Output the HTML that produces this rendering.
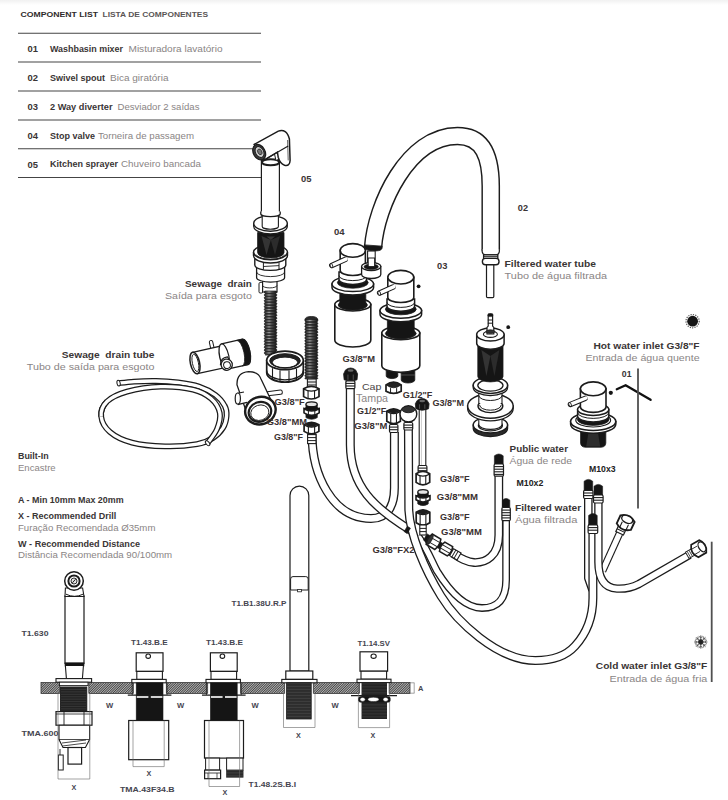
<!DOCTYPE html>
<html><head><meta charset="utf-8"><title>Component list</title>
<style>
html,body{margin:0;padding:0;background:#fff;}
body{width:728px;height:800px;overflow:hidden;font-family:"Liberation Sans",sans-serif;}
svg{display:block;font-family:"Liberation Sans",sans-serif;}
</style></head><body>
<svg width="728" height="800" viewBox="0 0 728 800">
<defs>
<pattern id="hatch" width="1.7" height="1.7" patternUnits="userSpaceOnUse" patternTransform="rotate(45)">
<rect width="1.7" height="1.7" fill="#b4b4b4"/><rect width="0.85" height="1.7" fill="#444"/>
</pattern>
<linearGradient id="rib" x1="0" x2="1" y1="0" y2="0">
<stop offset="0" stop-color="#1a1a1a"/><stop offset="0.22" stop-color="#6a6a6a"/><stop offset="0.38" stop-color="#a8a8a8"/>
<stop offset="0.6" stop-color="#555"/><stop offset="0.85" stop-color="#2a2a2a"/><stop offset="1" stop-color="#111"/>
</linearGradient>
<linearGradient id="topg" x1="0" x2="0" y1="0" y2="1"><stop offset="0" stop-color="#f1f1f1"/><stop offset="1" stop-color="#ffffff"/></linearGradient>
</defs>
<rect width="728" height="800" fill="#fff"/>
<rect width="728" height="5" fill="url(#topg)"/>
<text x="20.5" y="16.7" font-size="7.4" font-weight="bold" fill="#2e2a2a" textLength="77.5" lengthAdjust="spacingAndGlyphs">COMPONENT LIST</text>
<text x="102.5" y="16.6" font-size="7.2" font-weight="bold" fill="#5a5555" textLength="105.5" lengthAdjust="spacingAndGlyphs">LISTA DE COMPONENTES</text>
<line x1="18" y1="33.2" x2="261" y2="33.2" stroke="#444" stroke-width="1.1" />
<line x1="18" y1="62" x2="261" y2="62" stroke="#444" stroke-width="1.1" />
<line x1="18" y1="91" x2="261" y2="91" stroke="#444" stroke-width="1.1" />
<line x1="18" y1="120" x2="261" y2="120" stroke="#444" stroke-width="1.1" />
<line x1="18" y1="148.7" x2="261" y2="148.7" stroke="#444" stroke-width="1.1" />
<line x1="18" y1="177.5" x2="261" y2="177.5" stroke="#444" stroke-width="1.1" />
<text x="27.5" y="52.2" font-size="8.8" font-weight="bold" fill="#3a3535" textLength="10.5" lengthAdjust="spacingAndGlyphs">01</text>
<text x="50.0" y="52.0" font-size="8.2" font-weight="bold" fill="#3a3535" textLength="73.0" lengthAdjust="spacingAndGlyphs">Washbasin mixer</text>
<text x="128.5" y="52.0" font-size="8.2" font-weight="normal" fill="#8a8585" textLength="94.0" lengthAdjust="spacingAndGlyphs">Misturadora lavatório</text>
<text x="27.5" y="81.2" font-size="8.8" font-weight="bold" fill="#3a3535" textLength="10.5" lengthAdjust="spacingAndGlyphs">02</text>
<text x="50.0" y="81.0" font-size="8.2" font-weight="bold" fill="#3a3535" textLength="55.0" lengthAdjust="spacingAndGlyphs">Swivel spout</text>
<text x="110.0" y="81.0" font-size="8.2" font-weight="normal" fill="#8a8585" textLength="58.5" lengthAdjust="spacingAndGlyphs">Bica giratória</text>
<text x="27.5" y="110.0" font-size="8.8" font-weight="bold" fill="#3a3535" textLength="10.5" lengthAdjust="spacingAndGlyphs">03</text>
<text x="50.0" y="109.8" font-size="8.2" font-weight="bold" fill="#3a3535" textLength="62.5" lengthAdjust="spacingAndGlyphs">2 Way diverter</text>
<text x="117.5" y="109.8" font-size="8.2" font-weight="normal" fill="#8a8585" textLength="82.0" lengthAdjust="spacingAndGlyphs">Desviador 2 saídas</text>
<text x="27.5" y="138.8" font-size="8.8" font-weight="bold" fill="#3a3535" textLength="10.5" lengthAdjust="spacingAndGlyphs">04</text>
<text x="50.0" y="138.6" font-size="8.2" font-weight="bold" fill="#3a3535" textLength="45.0" lengthAdjust="spacingAndGlyphs">Stop valve</text>
<text x="98.0" y="138.6" font-size="8.2" font-weight="normal" fill="#8a8585" textLength="96.0" lengthAdjust="spacingAndGlyphs">Torneira de passagem</text>
<text x="27.5" y="167.6" font-size="8.8" font-weight="bold" fill="#3a3535" textLength="10.5" lengthAdjust="spacingAndGlyphs">05</text>
<text x="50.0" y="167.4" font-size="8.2" font-weight="bold" fill="#3a3535" textLength="68.0" lengthAdjust="spacingAndGlyphs">Kitchen sprayer</text>
<text x="121.0" y="167.4" font-size="8.2" font-weight="normal" fill="#8a8585" textLength="80.0" lengthAdjust="spacingAndGlyphs">Chuveiro bancada</text>
<path d="M118.6,383.2 C121.2,382.9 127.8,382.0 134.0,381.6  C140.2,381.2 148.7,380.9 156.0,381.0  C163.3,381.1 170.8,381.6 178.0,382.5  C185.2,383.4 192.8,384.5 199.0,386.6  C205.2,388.7 211.2,391.8 215.5,395.0  C219.8,398.2 223.0,402.5 224.8,406.0  C226.7,409.5 226.9,412.3 226.6,416.0  C226.3,419.7 225.3,424.3 223.0,428.0  C220.7,431.7 217.3,435.3 213.0,438.0  C208.7,440.7 205.0,442.8 197.0,444.2  C189.0,445.6 175.8,446.7 165.0,446.4  C154.2,446.1 141.2,445.0 132.0,442.6  C122.8,440.2 115.1,436.4 110.0,432.0  C104.9,427.6 101.7,421.6 101.2,416.5  C100.7,411.4 102.7,405.6 107.0,401.5 " fill="none" stroke="#1c1c1c" stroke-width="5.8" stroke-linecap="butt" stroke-linejoin="round"/>
<path d="M118.6,383.2 C121.2,382.9 127.8,382.0 134.0,381.6  C140.2,381.2 148.7,380.9 156.0,381.0  C163.3,381.1 170.8,381.6 178.0,382.5  C185.2,383.4 192.8,384.5 199.0,386.6  C205.2,388.7 211.2,391.8 215.5,395.0  C219.8,398.2 223.0,402.5 224.8,406.0  C226.7,409.5 226.9,412.3 226.6,416.0  C226.3,419.7 225.3,424.3 223.0,428.0  C220.7,431.7 217.3,435.3 213.0,438.0  C208.7,440.7 205.0,442.8 197.0,444.2  C189.0,445.6 175.8,446.7 165.0,446.4  C154.2,446.1 141.2,445.0 132.0,442.6  C122.8,440.2 115.1,436.4 110.0,432.0  C104.9,427.6 101.7,421.6 101.2,416.5  C100.7,411.4 102.7,405.6 107.0,401.5 " fill="none" stroke="#fff" stroke-width="3.3" stroke-linecap="butt" stroke-linejoin="round"/>
<path d="M101.2,416.5 C100.7,411.4 102.7,405.6 107.0,401.5  C111.3,397.4 118.1,394.1 127.0,391.6  C135.9,389.1 149.6,386.9 160.6,386.6  C171.6,386.3 184.6,387.6 193.0,389.6  C201.4,391.6 206.5,394.7 211.0,398.6  C215.5,402.5 218.8,407.9 219.8,413.0  C220.8,418.1 219.0,424.0 217.0,429.0  C215.0,434.0 209.2,440.8 207.6,443.2" fill="none" stroke="#1c1c1c" stroke-width="5.8" stroke-linecap="butt" stroke-linejoin="round"/>
<path d="M101.2,416.5 C100.7,411.4 102.7,405.6 107.0,401.5  C111.3,397.4 118.1,394.1 127.0,391.6  C135.9,389.1 149.6,386.9 160.6,386.6  C171.6,386.3 184.6,387.6 193.0,389.6  C201.4,391.6 206.5,394.7 211.0,398.6  C215.5,402.5 218.8,407.9 219.8,413.0  C220.8,418.1 219.0,424.0 217.0,429.0  C215.0,434.0 209.2,440.8 207.6,443.2" fill="none" stroke="#fff" stroke-width="3.3" stroke-linecap="butt" stroke-linejoin="round"/>
<g transform="rotate(-12 118.6 383.2)">
<ellipse cx="118.60" cy="383.20" rx="1.60" ry="2.90" fill="#fff" stroke="#1c1c1c" stroke-width="1.0" />
</g>
<g transform="rotate(-40 207.6 443.2)">
<ellipse cx="207.60" cy="443.20" rx="1.60" ry="2.90" fill="#fff" stroke="#1c1c1c" stroke-width="1.0" />
</g>
<g transform="rotate(-12.5 195 363)">
<rect x="213.50" y="344.50" width="3.40" height="8.50" fill="#fff" stroke="#1c1c1c" stroke-width="1.0" rx="1.4" />
<path d="M195,352 L226,352 L226,374 L195,374" fill="#fff" stroke="#1c1c1c" stroke-width="1.3" />
<path d="M225,350 L246.5,350 A4.6,13 0 0 1 246.5,376 L225,376 A4.6,13 0 0 1 225,350 Z" fill="#fff" stroke="#1c1c1c" stroke-width="1.3" />
<path d="M240.5,350 L246.5,350 A4.6,13 0 0 1 246.5,376 L240.5,376 A4.6,13 0 0 0 240.5,350 Z" fill="#151515" stroke="#1c1c1c" stroke-width="0.8" />
<path d="M225,350 A4.6,13 0 0 1 225,376" fill="none" stroke="#1c1c1c" stroke-width="1.2" />
<ellipse cx="195.00" cy="363.00" rx="4.60" ry="11.00" fill="#fff" stroke="#1c1c1c" stroke-width="1.5" />
<ellipse cx="195.40" cy="363.00" rx="3.00" ry="8.80" fill="#fff" stroke="#1c1c1c" stroke-width="0.9" />
<path d="M219.5,370 Q221,363.5 228,364 L231,371 Z" fill="#fff" stroke="#1c1c1c" stroke-width="1.1" />
<ellipse cx="225.60" cy="371.50" rx="5.60" ry="5.60" fill="#fff" stroke="#1c1c1c" stroke-width="1.3" />
<ellipse cx="225.80" cy="372.00" rx="3.40" ry="3.40" fill="#fff" stroke="#1c1c1c" stroke-width="1.0" />
</g>
<g transform="rotate(-7 268 394)">
<rect x="266.00" y="391.60" width="16.40" height="4.20" fill="#fff" stroke="#1c1c1c" stroke-width="1.0" rx="1.6" />
</g>
<path d="M237,385 Q236.5,372.5 248.5,371.6 Q258.5,371.6 261,379 L270.5,399 L247.5,415 Z" fill="#fff" stroke="#1c1c1c" stroke-width="1.3" />
<path d="M244,392 L238,393.2 L238.5,404.4 L247,402.4" fill="#fff" stroke="#1c1c1c" stroke-width="1.2" />
<ellipse cx="237.80" cy="398.60" rx="2.60" ry="5.60" fill="#fff" stroke="#1c1c1c" stroke-width="1.2" />
<g transform="rotate(-18 260.4 410.6)">
<ellipse cx="260.40" cy="410.60" rx="15.40" ry="13.60" fill="#fff" stroke="#1c1c1c" stroke-width="2.4" />
<ellipse cx="259.60" cy="411.60" rx="11.40" ry="9.80" fill="#fff" stroke="#1c1c1c" stroke-width="2.2" />
<ellipse cx="259.20" cy="412.40" rx="9.20" ry="7.60" fill="#fff" stroke="#1c1c1c" stroke-width="0.9" />
</g>
<rect x="261.40" y="160.00" width="18.00" height="54.50" fill="#fff" stroke="#1c1c1c" stroke-width="1.2" rx="0" />
<ellipse cx="270.60" cy="162.20" rx="8.60" ry="3.00" fill="#fff" stroke="#1c1c1c" stroke-width="1.9" />
<path d="M274,152 L276,160.5 L279.6,159 L279.2,150 Z" fill="#fff" stroke="#1c1c1c" stroke-width="1.0" />
<path d="M254.2,144.4 L278.3,131.1 Q286.5,128.4 289.4,139 L290.1,160.5 Q289.8,166.4 284.6,165.2 Q280,163.6 278.2,157.2 L277.4,152.2 L264.6,159.8 Z" fill="#fff" stroke="#1c1c1c" stroke-width="1.5" />
<path d="M264.6,159.8 L288.2,146" fill="none" stroke="#1c1c1c" stroke-width="1.2" />
<path d="M287.6,140 L288.2,160.4" fill="none" stroke="#1c1c1c" stroke-width="0.7" />
<g transform="rotate(-28 259.2 152.2)">
<ellipse cx="259.20" cy="152.20" rx="5.90" ry="8.20" fill="#3a3a3a" stroke="#1c1c1c" stroke-width="1.2" />
<ellipse cx="259.60" cy="152.20" rx="4.00" ry="5.80" fill="#ccc" stroke="#1c1c1c" stroke-width="0.9" />
<ellipse cx="259.90" cy="152.20" rx="2.00" ry="3.00" fill="#777" stroke="#1c1c1c" stroke-width="0.7" />
</g>
<rect x="259.00" y="282.50" width="3.80" height="10.50" fill="#fff" stroke="#1c1c1c" stroke-width="1.0" rx="1.2" />
<path d="M262.6,279 L262.6,292 L277.0,292 L277.0,279" fill="#fff" stroke="#1c1c1c" stroke-width="1.2" />
<path d="M262.6,285.5 A7.2,2.4 0 0 0 277.0,285.5" fill="none" stroke="#1c1c1c" stroke-width="0.9" />
<path d="M256.6,266 L256.6,277.5 A14,4.6 0 0 0 284.6,277.5 L284.6,266 Z" fill="#fff" stroke="#1c1c1c" stroke-width="1.3" />
<path d="M256.6,272 A14,4.6 0 0 0 284.6,272" fill="none" stroke="#1c1c1c" stroke-width="0.9" />
<path d="M254.8,257 L254.8,265 A15.5,5.4 0 0 0 285.8,265 L285.8,257 Z" fill="#fff" stroke="#1c1c1c" stroke-width="1.4" />
<line x1="263.4" y1="263" x2="263.4" y2="269.6" stroke="#1c1c1c" stroke-width="1.0" />
<line x1="279" y1="262.4" x2="279" y2="269.4" stroke="#1c1c1c" stroke-width="1.0" />
<path d="M263.4,266.5 L279,265.6" fill="none" stroke="#1c1c1c" stroke-width="0.9" />
<ellipse cx="270.50" cy="252.30" rx="17.00" ry="7.40" fill="#fff" stroke="#1c1c1c" stroke-width="1.4" />
<path d="M257.6,232.5 L257.6,252.5 A13.2,5.6 0 0 0 284.0,252.5 L284.0,232.5 Z" fill="#151515" stroke="#1c1c1c" stroke-width="0.8" />
<path d="M261.5,236 L266.5,255 L270.8,240 Z" fill="#343434" stroke="none" stroke-width="1" />
<path d="M280,236 L275,255 L270.8,240 Z" fill="#2c2c2c" stroke="none" stroke-width="1" />
<path d="M266.5,236.5 L270.8,240 L275,236.5 Z" fill="#3a3a3a" stroke="none" stroke-width="1" />
<path d="M253.5,252.3 A17,7.4 0 0 0 287.5,252.3 L287.5,255.6 A17,7.4 0 0 1 253.5,255.6 Z" fill="#fff" stroke="#1c1c1c" stroke-width="1.4" />
<path d="M256.2,254.6 A14.6,6 0 0 0 284.8,254.6" fill="none" stroke="#1c1c1c" stroke-width="0.9" />
<path d="M253.7,223.4 L253.7,226.2 A16.8,7.8 0 0 0 287.3,226.2 L287.3,223.4 Z" fill="#fff" stroke="#1c1c1c" stroke-width="1.3" />
<ellipse cx="270.50" cy="223.40" rx="16.80" ry="7.80" fill="#fff" stroke="#1c1c1c" stroke-width="1.4" />
<path d="M262.2,213.5 L262.2,226.4 A8.1,2.8 0 0 0 278.4,226.4 L278.4,213.5 Z" fill="#fff" stroke="#1c1c1c" stroke-width="1.1" />
<path d="M260.8,211.5 L260.8,214 A9.7,2.6 0 0 0 280.2,214 L280.2,211.5" fill="#fff" stroke="#1c1c1c" stroke-width="1.3" />
<rect x="265.10" y="291.00" width="10.90" height="64.50" fill="#4a4a4a" stroke="none" stroke-width="1" rx="0" />
<rect x="264.30" y="291.00" width="12.50" height="2.15" fill="url(#rib)" stroke="#1a1a1a" stroke-width="0.7" rx="1.0" />
<rect x="264.30" y="293.90" width="12.50" height="2.15" fill="url(#rib)" stroke="#1a1a1a" stroke-width="0.7" rx="1.0" />
<rect x="264.30" y="296.80" width="12.50" height="2.15" fill="url(#rib)" stroke="#1a1a1a" stroke-width="0.7" rx="1.0" />
<rect x="264.30" y="299.70" width="12.50" height="2.15" fill="url(#rib)" stroke="#1a1a1a" stroke-width="0.7" rx="1.0" />
<rect x="264.30" y="302.60" width="12.50" height="2.15" fill="url(#rib)" stroke="#1a1a1a" stroke-width="0.7" rx="1.0" />
<rect x="264.30" y="305.50" width="12.50" height="2.15" fill="url(#rib)" stroke="#1a1a1a" stroke-width="0.7" rx="1.0" />
<rect x="264.30" y="308.40" width="12.50" height="2.15" fill="url(#rib)" stroke="#1a1a1a" stroke-width="0.7" rx="1.0" />
<rect x="264.30" y="311.30" width="12.50" height="2.15" fill="url(#rib)" stroke="#1a1a1a" stroke-width="0.7" rx="1.0" />
<rect x="264.30" y="314.20" width="12.50" height="2.15" fill="url(#rib)" stroke="#1a1a1a" stroke-width="0.7" rx="1.0" />
<rect x="264.30" y="317.10" width="12.50" height="2.15" fill="url(#rib)" stroke="#1a1a1a" stroke-width="0.7" rx="1.0" />
<rect x="264.30" y="320.00" width="12.50" height="2.15" fill="url(#rib)" stroke="#1a1a1a" stroke-width="0.7" rx="1.0" />
<rect x="264.30" y="322.90" width="12.50" height="2.15" fill="url(#rib)" stroke="#1a1a1a" stroke-width="0.7" rx="1.0" />
<rect x="264.30" y="325.80" width="12.50" height="2.15" fill="url(#rib)" stroke="#1a1a1a" stroke-width="0.7" rx="1.0" />
<rect x="264.30" y="328.70" width="12.50" height="2.15" fill="url(#rib)" stroke="#1a1a1a" stroke-width="0.7" rx="1.0" />
<rect x="264.30" y="331.60" width="12.50" height="2.15" fill="url(#rib)" stroke="#1a1a1a" stroke-width="0.7" rx="1.0" />
<rect x="264.30" y="334.50" width="12.50" height="2.15" fill="url(#rib)" stroke="#1a1a1a" stroke-width="0.7" rx="1.0" />
<rect x="264.30" y="337.40" width="12.50" height="2.15" fill="url(#rib)" stroke="#1a1a1a" stroke-width="0.7" rx="1.0" />
<rect x="264.30" y="340.30" width="12.50" height="2.15" fill="url(#rib)" stroke="#1a1a1a" stroke-width="0.7" rx="1.0" />
<rect x="264.30" y="343.20" width="12.50" height="2.15" fill="url(#rib)" stroke="#1a1a1a" stroke-width="0.7" rx="1.0" />
<rect x="264.30" y="346.10" width="12.50" height="2.15" fill="url(#rib)" stroke="#1a1a1a" stroke-width="0.7" rx="1.0" />
<rect x="264.30" y="349.00" width="12.50" height="2.15" fill="url(#rib)" stroke="#1a1a1a" stroke-width="0.7" rx="1.0" />
<rect x="264.30" y="351.90" width="12.50" height="2.15" fill="url(#rib)" stroke="#1a1a1a" stroke-width="0.7" rx="1.0" />
<path d="M266.7,360.4 L266.7,372.79999999999995 A18.3,9.3 0 0 0 303.3,372.79999999999995 L303.3,360.4 Z" fill="#fff" stroke="#1c1c1c" stroke-width="1.7" />
<ellipse cx="285.00" cy="360.40" rx="18.30" ry="9.30" fill="#fff" stroke="#1c1c1c" stroke-width="1.7" />
<ellipse cx="285.00" cy="360.80" rx="15.30" ry="7.10" fill="#222" stroke="#1c1c1c" stroke-width="1" />
<ellipse cx="285.00" cy="362.40" rx="12.70" ry="5.30" fill="#fff" stroke="#1c1c1c" stroke-width="1" />
<path d="M272.3,362.79999999999995 A12.700000000000001,5.300000000000001 0 0 0 297.7,362.79999999999995" fill="none" stroke="#1c1c1c" stroke-width="1.0" />
<line x1="272.5" y1="368.19236810288146" x2="272.5" y2="379.09236810288144" stroke="#1c1c1c" stroke-width="1.1" />
<line x1="280.0" y1="370.34613896109414" x2="280.0" y2="381.2461389610941" stroke="#1c1c1c" stroke-width="1.1" />
<line x1="289.0" y1="370.47511859311885" x2="289.0" y2="381.3751185931188" stroke="#1c1c1c" stroke-width="1.1" />
<line x1="296.5" y1="368.63426556232787" x2="296.5" y2="379.53426556232785" stroke="#1c1c1c" stroke-width="1.1" />
<path d="M266.7,370.59999999999997 A18.3,9.3 0 0 0 303.3,370.59999999999997" fill="none" stroke="#1c1c1c" stroke-width="1.4" />
<path d="M334.8,304.5 L334.8,340 A18,7 0 0 0 370.8,340 L370.8,304.5 Z" fill="#fff" stroke="#1c1c1c" stroke-width="1.6" />
<ellipse cx="352.80" cy="304.50" rx="18.00" ry="6.50" fill="#fff" stroke="#1c1c1c" stroke-width="1.6" />
<ellipse cx="352.80" cy="305.00" rx="14.60" ry="5.00" fill="#151515" stroke="#1c1c1c" stroke-width="0.8" />
<path d="M339.8,286 L339.8,305.5 A13,4.5 0 0 0 365.8,305.5 L365.8,286 Z" fill="#151515" stroke="#1c1c1c" stroke-width="0.8" />
<path d="M332.0,284 L332.0,287.4 A20.8,7.6 0 0 0 373.6,287.4 L373.6,284 Z" fill="#fff" stroke="#1c1c1c" stroke-width="1.5" />
<ellipse cx="352.80" cy="284.00" rx="20.80" ry="7.60" fill="#fff" stroke="#1c1c1c" stroke-width="1.5" />
<ellipse cx="352.80" cy="282.60" rx="15.40" ry="5.60" fill="#151515" stroke="#1c1c1c" stroke-width="0.8" />
<path d="M339.0,272 L339.0,279.4 A13.8,5 0 0 0 366.6,279.4 L366.6,272 Z" fill="#fff" stroke="#1c1c1c" stroke-width="1.5" />
<path d="M339.0,275.6 A13.8,5 0 0 0 366.6,275.6" fill="none" stroke="#1c1c1c" stroke-width="1.0" />
<path d="M340.2,250.4 L340.2,270.5 A12.6,5 0 0 0 365.40000000000003,270.5 L365.40000000000003,250 Z" fill="#fff" stroke="#1c1c1c" stroke-width="1.6" />
<ellipse cx="352.80" cy="250.40" rx="12.60" ry="6.80" fill="#fff" stroke="#1c1c1c" stroke-width="1.6" />
<path d="M331.8,265.5 L345,259.5" fill="none" stroke="#1c1c1c" stroke-width="5.4" stroke-linecap="round"/>
<path d="M331.8,265.5 L346,259.1" fill="none" stroke="#fff" stroke-width="3.4" stroke-linecap="round"/>
<g transform="rotate(-24.4 331.8 265.5)">
<ellipse cx="331.40" cy="265.50" rx="1.20" ry="2.10" fill="#fff" stroke="#1c1c1c" stroke-width="0.9" />
</g>
<path d="M373,248 C376,205 408,136 457.5,136 C484,136 490.75,158 490.75,186 L490.75,250.5" fill="none" stroke="#1c1c1c" stroke-width="18.6" stroke-linecap="butt"/>
<path d="M373,248 C376,205 408,136 457.5,136 C484,136 490.75,158 490.75,186 L490.75,250.5" fill="none" stroke="#fff" stroke-width="15.7" stroke-linecap="butt"/>
<rect x="486.50" y="264.00" width="7.30" height="33.60" fill="#fff" stroke="#1c1c1c" stroke-width="1.2" rx="1.2" />
<path d="M482.15,249.5 L482.15,251.5 Q482.4,254.6 485.4,254.8 L496.1,254.8 Q499.1,254.6 499.35,251.5 L499.35,249.5" fill="#fff" stroke="#1c1c1c" stroke-width="1.2" />
<rect x="483.60" y="254.80" width="14.20" height="3.60" fill="#fff" stroke="#1c1c1c" stroke-width="1.3" rx="0" />
<line x1="483.6" y1="256.4" x2="497.8" y2="256.4" stroke="#1c1c1c" stroke-width="0.9" />
<rect x="482.40" y="258.40" width="16.60" height="6.40" fill="#fff" stroke="#1c1c1c" stroke-width="1.4" rx="3" />
<g transform="rotate(4 373 248)">
<path d="M364,245.5 L382,245.5 L381.6,248.6 A8.8,2.8 0 0 1 364.4,248.6 Z" fill="#151515" stroke="#1c1c1c" stroke-width="0.8" />
</g>
<rect x="367.60" y="251.00" width="7.60" height="16.00" fill="#fff" stroke="#1c1c1c" stroke-width="1.1" rx="0" />
<path d="M361.6,266.5 L361.6,274.5 A9.6,4 0 0 0 380.8,274.5 L380.8,266.5 Z" fill="#fff" stroke="#1c1c1c" stroke-width="1.3" />
<ellipse cx="371.20" cy="266.50" rx="9.60" ry="4.00" fill="#fff" stroke="#1c1c1c" stroke-width="1.3" />
<ellipse cx="371.20" cy="266.80" rx="7.20" ry="2.80" fill="#151515" stroke="#1c1c1c" stroke-width="0.6" />
<rect x="368.20" y="258.00" width="6.40" height="8.60" fill="#fff" stroke="#1c1c1c" stroke-width="1.0" rx="0" />
<path d="M386.2,367 L386.2,376 A5.8,2.6 0 0 0 397.8,376 L397.8,367 Z" fill="#151515" stroke="#1c1c1c" stroke-width="0.8" />
<path d="M401.2,369 L401.2,380 A6.8,3 0 0 0 414.8,380 L414.8,369 Z" fill="#151515" stroke="#1c1c1c" stroke-width="0.8" />
<line x1="401.2" y1="375" x2="414.8" y2="375" stroke="#777" stroke-width="0.6" />
<path d="M381.8,333 L381.8,365.4 A19,7 0 0 0 419.8,365.4 L419.8,333 Z" fill="#fff" stroke="#1c1c1c" stroke-width="1.6" />
<ellipse cx="400.80" cy="333.00" rx="19.00" ry="6.80" fill="#fff" stroke="#1c1c1c" stroke-width="1.6" />
<ellipse cx="400.80" cy="333.50" rx="15.40" ry="5.20" fill="#151515" stroke="#1c1c1c" stroke-width="0.8" />
<path d="M387.40000000000003,314 L387.40000000000003,334 A13.4,4.6 0 0 0 414.2,334 L414.2,314 Z" fill="#151515" stroke="#1c1c1c" stroke-width="0.8" />
<path d="M380.0,310.6 L380.0,314.2 A20.8,7.6 0 0 0 421.6,314.2 L421.6,310.6 Z" fill="#fff" stroke="#1c1c1c" stroke-width="1.5" />
<ellipse cx="400.80" cy="310.60" rx="20.80" ry="7.60" fill="#fff" stroke="#1c1c1c" stroke-width="1.5" />
<ellipse cx="400.80" cy="309.20" rx="15.40" ry="5.60" fill="#151515" stroke="#1c1c1c" stroke-width="0.8" />
<path d="M387.0,299 L387.0,306.2 A13.8,5 0 0 0 414.6,306.2 L414.6,299 Z" fill="#fff" stroke="#1c1c1c" stroke-width="1.5" />
<path d="M387.0,302.4 A13.8,5 0 0 0 414.6,302.4" fill="none" stroke="#1c1c1c" stroke-width="1.0" />
<path d="M387.8,277.2 L387.8,297.5 A13,5 0 0 0 413.8,297.5 L413.8,277.2 Z" fill="#fff" stroke="#1c1c1c" stroke-width="1.6" />
<ellipse cx="400.80" cy="277.20" rx="13.00" ry="6.80" fill="#fff" stroke="#1c1c1c" stroke-width="1.6" />
<path d="M379.6,293 L393,287" fill="none" stroke="#1c1c1c" stroke-width="5.4" stroke-linecap="round"/>
<path d="M379.6,293 L394,286.6" fill="none" stroke="#fff" stroke-width="3.4" stroke-linecap="round"/>
<g transform="rotate(-24.1 379.6 293)">
<ellipse cx="379.20" cy="293.00" rx="1.20" ry="2.10" fill="#fff" stroke="#1c1c1c" stroke-width="0.9" />
</g>
<circle cx="418.6" cy="286.3" r="1.9" fill="#151515"/>
<path d="M386.0,384.95 L386.0,391.25 Q393.6,395.45 401.20000000000005,391.25 L401.20000000000005,384.95 Q393.6,379.34999999999997 386.0,384.95 Z" fill="#fff" stroke="#1c1c1c" stroke-width="1.7" />
<path d="M386.6,385.15999999999997 Q393.6,380.04999999999995 400.6,385.15999999999997 Q393.6,390.34 386.6,385.15999999999997 Z" fill="#222" stroke="#1c1c1c" stroke-width="0.8" />
<line x1="390.56" y1="388.09999999999997" x2="390.56" y2="393.28" stroke="#1c1c1c" stroke-width="1.0" />
<line x1="396.64000000000004" y1="388.09999999999997" x2="396.64000000000004" y2="393.28" stroke="#1c1c1c" stroke-width="1.0" />
<path d="M473.2,425 L473.2,428.6 A17.2,8 0 0 0 507.59999999999997,428.6 L507.59999999999997,425 Z" fill="#2a2a2a" stroke="#1c1c1c" stroke-width="1.2" />
<ellipse cx="490.40" cy="425.00" rx="17.20" ry="8.00" fill="#fff" stroke="#1c1c1c" stroke-width="1.5" />
<ellipse cx="490.40" cy="425.40" rx="12.00" ry="5.40" fill="#fff" stroke="#1c1c1c" stroke-width="1.3" />
<path d="M478.79999999999995,406 L478.79999999999995,424.4 A11.6,5 0 0 0 502.0,424.4 L502.0,406 Z" fill="#fff" stroke="#1c1c1c" stroke-width="1.1" />
<path d="M467.59999999999997,406 L467.59999999999997,408.6 A22.8,12.2 0 0 0 513.1999999999999,408.6 L513.1999999999999,406 Z" fill="#fff" stroke="#1c1c1c" stroke-width="1.3" />
<ellipse cx="490.40" cy="406.00" rx="22.80" ry="12.20" fill="#fff" stroke="#1c1c1c" stroke-width="1.5" />
<ellipse cx="490.40" cy="406.00" rx="12.40" ry="6.60" fill="#fff" stroke="#1c1c1c" stroke-width="1.4" />
<path d="M479.59999999999997,405 A10.8,5.2 0 0 0 501.2,405" fill="none" stroke="#1c1c1c" stroke-width="1.0" />
<path d="M478.79999999999995,386 L478.79999999999995,403 L502.0,403 L502.0,386 Z" fill="#fff" stroke="none" stroke-width="1" />
<line x1="478.79999999999995" y1="386" x2="478.79999999999995" y2="403.6" stroke="#1c1c1c" stroke-width="1.1" />
<line x1="502.0" y1="386" x2="502.0" y2="403.6" stroke="#1c1c1c" stroke-width="1.1" />
<path d="M478.79999999999995,395.5 A11.6,5 0 0 0 502.0,395.5" fill="none" stroke="#1c1c1c" stroke-width="1.0" />
<path d="M473.2,385.2 L473.2,387.4 A17.2,8.2 0 0 0 507.59999999999997,387.4 L507.59999999999997,385.2 Z" fill="#fff" stroke="#1c1c1c" stroke-width="1.3" />
<ellipse cx="490.40" cy="385.20" rx="17.20" ry="8.20" fill="#fff" stroke="#1c1c1c" stroke-width="1.5" />
<ellipse cx="490.40" cy="385.40" rx="12.60" ry="5.80" fill="#fff" stroke="#1c1c1c" stroke-width="1.3" />
<path d="M477.79999999999995,346 L477.79999999999995,376.5 A12.6,5.4 0 0 0 503.0,376.5 L503.0,346 Z" fill="#151515" stroke="#1c1c1c" stroke-width="0.8" />
<path d="M481.4,350 L486.4,376 L490.4,356 Z" fill="#343434" stroke="none" stroke-width="1" />
<path d="M499.4,350 L494.4,376 L490.4,356 Z" fill="#2c2c2c" stroke="none" stroke-width="1" />
<path d="M476.7,334.5 L476.7,343.6 A13.7,5.6 0 0 0 504.09999999999997,343.6 L504.09999999999997,334.5 Z" fill="#fff" stroke="#1c1c1c" stroke-width="1.5" />
<ellipse cx="490.40" cy="334.50" rx="13.70" ry="6.60" fill="#fff" stroke="#1c1c1c" stroke-width="1.5" />
<ellipse cx="490.40" cy="334.20" rx="7.00" ry="3.20" fill="#fff" stroke="#1c1c1c" stroke-width="1.1" />
<path d="M487.0,334 L487.0,327.5 L488.2,326 L488.2,315.5 Q490.4,312.6 492.59999999999997,315.5 L492.59999999999997,326 L493.79999999999995,327.5 L493.79999999999995,334 Z" fill="#fff" stroke="#1c1c1c" stroke-width="1.2" />
<rect x="487.80" y="313.60" width="5.20" height="3.00" fill="#151515" stroke="#1c1c1c" stroke-width="0.5" rx="1.2" />
<line x1="487.79999999999995" y1="320" x2="493.0" y2="320" stroke="#1c1c1c" stroke-width="1.0" />
<line x1="487.79999999999995" y1="323.2" x2="493.0" y2="323.2" stroke="#1c1c1c" stroke-width="1.0" />
<ellipse cx="490.40" cy="331.60" rx="4.40" ry="1.80" fill="#333" stroke="#1c1c1c" stroke-width="0.8" />
<circle cx="508.2" cy="327.2" r="1.9" fill="#151515"/>
<path d="M580.6,428 L580.6,443 Q580.8000000000001,447 585.2,447.2 L601.2,447.2 Q605.6,447 605.8000000000001,443 L605.8000000000001,428 Z" fill="#151515" stroke="#1c1c1c" stroke-width="0.8" />
<path d="M588.2,434 L586.2,446.5 L600.2,446.5 L598.2,434 Z" fill="#2e2e2e" stroke="none" stroke-width="1" />
<path d="M570.6,421.5 L570.6,424.2 A22.6,9 0 0 0 615.8000000000001,424.2 L615.8000000000001,421.5 Z" fill="#fff" stroke="#1c1c1c" stroke-width="1.5" />
<ellipse cx="593.20" cy="421.50" rx="22.60" ry="9.00" fill="#fff" stroke="#1c1c1c" stroke-width="1.6" />
<ellipse cx="593.20" cy="420.20" rx="17.40" ry="6.80" fill="#fff" stroke="#1c1c1c" stroke-width="1.2" />
<ellipse cx="593.20" cy="419.40" rx="15.80" ry="6.00" fill="#151515" stroke="#1c1c1c" stroke-width="0.8" />
<path d="M577.6,409.5 L577.6,416 A15.6,6 0 0 0 608.8000000000001,416 L608.8000000000001,409.5 Z" fill="#fff" stroke="#1c1c1c" stroke-width="1.5" />
<ellipse cx="593.20" cy="409.50" rx="15.60" ry="6.00" fill="#fff" stroke="#1c1c1c" stroke-width="1.5" />
<path d="M577.6,412.4 A15.6,6 0 0 0 608.8000000000001,412.4" fill="none" stroke="#1c1c1c" stroke-width="1.0" />
<path d="M580.4000000000001,388.8 L580.4000000000001,407 A12.8,5.4 0 0 0 606.0,407 L606.0,388.8 Z" fill="#fff" stroke="#1c1c1c" stroke-width="1.6" />
<ellipse cx="593.20" cy="388.80" rx="12.80" ry="6.90" fill="#fff" stroke="#1c1c1c" stroke-width="1.6" />
<path d="M570.4,404.4 L585,398.4" fill="none" stroke="#1c1c1c" stroke-width="5.4" stroke-linecap="round"/>
<path d="M570.4,404.4 L586,398.0" fill="none" stroke="#fff" stroke-width="3.4" stroke-linecap="round"/>
<g transform="rotate(-22.3 570.4 404.4)">
<ellipse cx="570.00" cy="404.40" rx="1.20" ry="2.10" fill="#fff" stroke="#1c1c1c" stroke-width="0.9" />
</g>
<path d="M616.8,389.2 L625.6,385.2 L650.6,399.8" fill="none" stroke="#111" stroke-width="2.3" stroke-linecap="round" stroke-linejoin="round"/>
<circle cx="610.8" cy="392.8" r="2.1" fill="#151515"/>
<line x1="638" y1="368.5" x2="638" y2="508.6" stroke="#505050" stroke-width="1.8" />
<line x1="711.7" y1="541.7" x2="711.7" y2="682" stroke="#505050" stroke-width="1.8" />
<circle cx="692.6" cy="321.2" r="5.4" fill="#151515"/>
<circle cx="692.6" cy="321.2" r="6.6" fill="none" stroke="#555" stroke-width="1.2" stroke-dasharray="1.2 1.2"/>
<line x1="702.0" y1="642.0" x2="707.4" y2="642.0" stroke="#444" stroke-width="0.9" />
<line x1="705.0" y1="642.0" x2="706.69" y2="640.05" stroke="#444" stroke-width="0.7" />
<line x1="705.0" y1="642.0" x2="706.69" y2="643.95" stroke="#444" stroke-width="0.7" />
<line x1="701.65" y1="642.85" x2="705.47" y2="646.67" stroke="#444" stroke-width="0.9" />
<line x1="703.77" y1="644.97" x2="706.34" y2="644.78" stroke="#444" stroke-width="0.7" />
<line x1="703.77" y1="644.97" x2="703.58" y2="647.54" stroke="#444" stroke-width="0.7" />
<line x1="700.8" y1="643.2" x2="700.8" y2="648.6" stroke="#444" stroke-width="0.9" />
<line x1="700.8" y1="646.2" x2="702.75" y2="647.89" stroke="#444" stroke-width="0.7" />
<line x1="700.8" y1="646.2" x2="698.85" y2="647.89" stroke="#444" stroke-width="0.7" />
<line x1="699.95" y1="642.85" x2="696.13" y2="646.67" stroke="#444" stroke-width="0.9" />
<line x1="697.83" y1="644.97" x2="698.02" y2="647.54" stroke="#444" stroke-width="0.7" />
<line x1="697.83" y1="644.97" x2="695.26" y2="644.78" stroke="#444" stroke-width="0.7" />
<line x1="699.6" y1="642.0" x2="694.2" y2="642.0" stroke="#444" stroke-width="0.9" />
<line x1="696.6" y1="642.0" x2="694.91" y2="643.95" stroke="#444" stroke-width="0.7" />
<line x1="696.6" y1="642.0" x2="694.91" y2="640.05" stroke="#444" stroke-width="0.7" />
<line x1="699.95" y1="641.15" x2="696.13" y2="637.33" stroke="#444" stroke-width="0.9" />
<line x1="697.83" y1="639.03" x2="695.26" y2="639.22" stroke="#444" stroke-width="0.7" />
<line x1="697.83" y1="639.03" x2="698.02" y2="636.46" stroke="#444" stroke-width="0.7" />
<line x1="700.8" y1="640.8" x2="700.8" y2="635.4" stroke="#444" stroke-width="0.9" />
<line x1="700.8" y1="637.8" x2="698.85" y2="636.11" stroke="#444" stroke-width="0.7" />
<line x1="700.8" y1="637.8" x2="702.75" y2="636.11" stroke="#444" stroke-width="0.7" />
<line x1="701.65" y1="641.15" x2="705.47" y2="637.33" stroke="#444" stroke-width="0.9" />
<line x1="703.77" y1="639.03" x2="703.58" y2="636.46" stroke="#444" stroke-width="0.7" />
<line x1="703.77" y1="639.03" x2="706.34" y2="639.22" stroke="#444" stroke-width="0.7" />
<circle cx="700.8" cy="642" r="2.4" fill="#222" stroke="#333" stroke-width="0.8"/>
<circle cx="700.8" cy="642" r="4.6" fill="none" stroke="#666" stroke-width="0.6" stroke-dasharray="1 1"/>
<path d="M622,528 L602.5,571" fill="none" stroke="#1c1c1c" stroke-width="7.6" stroke-linecap="butt" stroke-linejoin="round"/>
<path d="M622,528 L602.5,571" fill="none" stroke="#fff" stroke-width="5.4" stroke-linecap="butt" stroke-linejoin="round"/>
<path d="M588.3,496 L588.3,578 L592.5,590" fill="none" stroke="#1c1c1c" stroke-width="8.6" stroke-linecap="butt" stroke-linejoin="round"/>
<path d="M588.3,496 L588.3,578 L592.5,590" fill="none" stroke="#fff" stroke-width="6.0" stroke-linecap="butt" stroke-linejoin="round"/>
<path d="M312,434 C312,474 332,518.5 371,518.5 C388,518.5 394.4,505 394.4,488 L394.4,432" fill="none" stroke="#1c1c1c" stroke-width="9.0" stroke-linecap="butt" stroke-linejoin="round"/>
<path d="M312,434 C312,474 332,518.5 371,518.5 C388,518.5 394.4,505 394.4,488 L394.4,432" fill="none" stroke="#fff" stroke-width="6.4" stroke-linecap="butt" stroke-linejoin="round"/>
<path d="M506.1,520 L506.1,580 C506.1,601 496,608 482,608 C466,608 450,592 437,571 C432,562 428,550 418,536" fill="none" stroke="#1c1c1c" stroke-width="7.8" stroke-linecap="butt" stroke-linejoin="round"/>
<path d="M506.1,520 L506.1,580 C506.1,601 496,608 482,608 C466,608 450,592 437,571 C432,562 428,550 418,536" fill="none" stroke="#fff" stroke-width="5.199999999999999" stroke-linecap="butt" stroke-linejoin="round"/>
<path d="M350.3,381 L350.3,445 C350.5,486 374,508 411,530.5" fill="none" stroke="#1c1c1c" stroke-width="9.0" stroke-linecap="butt" stroke-linejoin="round"/>
<path d="M350.3,381 L350.3,445 C350.5,486 374,508 411,530.5" fill="none" stroke="#fff" stroke-width="6.4" stroke-linecap="butt" stroke-linejoin="round"/>
<path d="M408.4,424 L408.8,510 C410,535 425,570 441,596 C456,620.5 497,660.5 535.4,660.5 C552,660.5 566,656 575,646 C586,634 592.9,618 592.9,598 L592.9,524" fill="none" stroke="#1c1c1c" stroke-width="9.0" stroke-linecap="butt" stroke-linejoin="round"/>
<path d="M408.4,424 L408.8,510 C410,535 425,570 441,596 C456,620.5 497,660.5 535.4,660.5 C552,660.5 566,656 575,646 C586,634 592.9,618 592.9,598 L592.9,524" fill="none" stroke="#fff" stroke-width="6.4" stroke-linecap="butt" stroke-linejoin="round"/>
<path d="M498.8,467 L498.8,535 C498.8,556 486,563 474,562.5 C466,562 460,558 453,553.5" fill="none" stroke="#1c1c1c" stroke-width="8.8" stroke-linecap="butt" stroke-linejoin="round"/>
<path d="M498.8,467 L498.8,535 C498.8,556 486,563 474,562.5 C466,562 460,558 453,553.5" fill="none" stroke="#fff" stroke-width="6.200000000000001" stroke-linecap="butt" stroke-linejoin="round"/>
<path d="M598.4,494 L598.4,562 C598.4,578 604,588 617,588.6 C624,589 632,587.5 639,583.9 L689.5,554.8" fill="none" stroke="#1c1c1c" stroke-width="8.4" stroke-linecap="butt" stroke-linejoin="round"/>
<path d="M598.4,494 L598.4,562 C598.4,578 604,588 617,588.6 C624,589 632,587.5 639,583.9 L689.5,554.8" fill="none" stroke="#fff" stroke-width="5.8" stroke-linecap="butt" stroke-linejoin="round"/>
<path d="M584.1,481.20000000000005 Q588.4,477.6 592.6999999999999,481.20000000000005 L592.6999999999999,490.4 L584.1,490.4 Z" fill="#151515" stroke="#1c1c1c" stroke-width="0.6" />
<rect x="583.60" y="490.40" width="9.40" height="8.10" fill="#fff" stroke="#1c1c1c" stroke-width="1.2" rx="1.2" />
<line x1="583.5999999999999" y1="493.0" x2="593.0" y2="493.0" stroke="#1c1c1c" stroke-width="1.1" />
<line x1="583.5999999999999" y1="495.6" x2="593.0" y2="495.6" stroke="#1c1c1c" stroke-width="1.1" />
<path d="M594.0,486.20000000000005 Q598.3,482.6 602.5999999999999,486.20000000000005 L602.5999999999999,495 L594.0,495 Z" fill="#151515" stroke="#1c1c1c" stroke-width="0.6" />
<rect x="593.50" y="495.00" width="9.60" height="8.00" fill="#fff" stroke="#1c1c1c" stroke-width="1.2" rx="1.2" />
<line x1="593.5" y1="497.6" x2="603.0999999999999" y2="497.6" stroke="#1c1c1c" stroke-width="1.1" />
<line x1="593.5" y1="500.2" x2="603.0999999999999" y2="500.2" stroke="#1c1c1c" stroke-width="1.1" />
<path d="M588.6,515.4 Q592.9,511.79999999999995 597.1999999999999,515.4 L597.1999999999999,525 L588.6,525 Z" fill="#151515" stroke="#1c1c1c" stroke-width="0.6" />
<rect x="588.10" y="525.00" width="9.60" height="8.50" fill="#fff" stroke="#1c1c1c" stroke-width="1.2" rx="1.2" />
<line x1="588.1" y1="527.6" x2="597.6999999999999" y2="527.6" stroke="#1c1c1c" stroke-width="1.1" />
<line x1="588.1" y1="530.2" x2="597.6999999999999" y2="530.2" stroke="#1c1c1c" stroke-width="1.1" />
<path d="M494.40000000000003,455.8 Q498.8,452.2 503.2,455.8 L503.2,464 L494.40000000000003,464 Z" fill="#151515" stroke="#1c1c1c" stroke-width="0.6" />
<rect x="494.10" y="464.00" width="9.40" height="12.20" fill="#fff" stroke="#1c1c1c" stroke-width="1.2" rx="1.2" />
<line x1="494.1" y1="466.6" x2="503.5" y2="466.6" stroke="#1c1c1c" stroke-width="1.1" />
<line x1="494.1" y1="469.2" x2="503.5" y2="469.2" stroke="#1c1c1c" stroke-width="1.1" />
<line x1="494.1" y1="471.8" x2="503.5" y2="471.8" stroke="#1c1c1c" stroke-width="1.1" />
<line x1="494.1" y1="474.4" x2="503.5" y2="474.4" stroke="#1c1c1c" stroke-width="1.1" />
<path d="M502.40000000000003,500.20000000000005 Q506.1,496.6 509.8,500.20000000000005 L509.8,507.5 L502.40000000000003,507.5 Z" fill="#151515" stroke="#1c1c1c" stroke-width="0.6" />
<rect x="501.90" y="507.50" width="8.40" height="13.10" fill="#fff" stroke="#1c1c1c" stroke-width="1.2" rx="1.2" />
<line x1="501.90000000000003" y1="510.1" x2="510.3" y2="510.1" stroke="#1c1c1c" stroke-width="1.1" />
<line x1="501.90000000000003" y1="512.7" x2="510.3" y2="512.7" stroke="#1c1c1c" stroke-width="1.1" />
<line x1="501.90000000000003" y1="515.3" x2="510.3" y2="515.3" stroke="#1c1c1c" stroke-width="1.1" />
<line x1="501.90000000000003" y1="517.9" x2="510.3" y2="517.9" stroke="#1c1c1c" stroke-width="1.1" />
<path d="M345.56,369.90000000000003 Q350.6,366.1 355.64000000000004,369.90000000000003 L357.6,373.925 L357.04,379.8 Q350.6,382.8 344.16,379.8 L343.6,373.925 Z" fill="#151515" stroke="#1c1c1c" stroke-width="0.8" />
<ellipse cx="350.60" cy="370.50" rx="2.94" ry="1.30" fill="#666" stroke="none" stroke-width="1" />
<line x1="347.94" y1="374.55" x2="347.94" y2="379.8" stroke="#6a6a6a" stroke-width="0.7" />
<line x1="353.26000000000005" y1="374.55" x2="353.26000000000005" y2="379.8" stroke="#6a6a6a" stroke-width="0.7" />
<rect x="345.90" y="380.80" width="9.00" height="7.80" fill="#fff" stroke="#1c1c1c" stroke-width="1.2" rx="1.2" />
<line x1="345.9" y1="383.4" x2="354.9" y2="383.4" stroke="#1c1c1c" stroke-width="1.1" />
<line x1="345.9" y1="386.0" x2="354.9" y2="386.0" stroke="#1c1c1c" stroke-width="1.1" />
<path d="M386.8,411.3 L386.8,421.3 Q393.6,426.1 400.40000000000003,421.3 L400.40000000000003,411.3 Q393.6,406.3 386.8,411.3 Z" fill="#fff" stroke="#1c1c1c" stroke-width="1.7" />
<path d="M386.8,411.5 Q393.6,415.7 400.40000000000003,411.5" fill="none" stroke="#1c1c1c" stroke-width="1.4" />
<line x1="390.744" y1="413.5" x2="390.744" y2="423.3" stroke="#1c1c1c" stroke-width="1.1" />
<line x1="396.456" y1="413.5" x2="396.456" y2="423.3" stroke="#1c1c1c" stroke-width="1.1" />
<path d="M387.6,411.3 Q393.6,406.9 399.6,411.3 Q393.6,415.1 387.6,411.3 Z" fill="#1d1d1d" stroke="#1c1c1c" stroke-width="0.6" />
<rect x="389.50" y="424.50" width="8.40" height="8.00" fill="#fff" stroke="#1c1c1c" stroke-width="1.2" rx="1.2" />
<line x1="389.5" y1="427.1" x2="397.9" y2="427.1" stroke="#1c1c1c" stroke-width="1.1" />
<line x1="389.5" y1="429.7" x2="397.9" y2="429.7" stroke="#1c1c1c" stroke-width="1.1" />
<ellipse cx="408.40" cy="414.00" rx="8.40" ry="8.20" fill="#fff" stroke="#1c1c1c" stroke-width="1.4" />
<ellipse cx="408.40" cy="409.50" rx="6.40" ry="3.20" fill="#333" stroke="#1c1c1c" stroke-width="0.9" />
<path d="M402.5,419.8 Q408.4,423.5 414.3,419.8" fill="none" stroke="#1c1c1c" stroke-width="1.0" />
<rect x="403.90" y="422.50" width="8.80" height="7.50" fill="#fff" stroke="#1c1c1c" stroke-width="1.2" rx="1.2" />
<line x1="403.90000000000003" y1="425.1" x2="412.7" y2="425.1" stroke="#1c1c1c" stroke-width="1.1" />
<line x1="403.90000000000003" y1="427.7" x2="412.7" y2="427.7" stroke="#1c1c1c" stroke-width="1.1" />
<rect x="419.20" y="408.00" width="6.60" height="58.00" fill="#fff" stroke="#1c1c1c" stroke-width="1.1" rx="0" />
<line x1="421.4" y1="409" x2="421.4" y2="465" stroke="#999" stroke-width="0.5" />
<path d="M417.23199999999997,400.40000000000003 Q422.2,396.6 427.168,400.40000000000003 L429.09999999999997,403.75 L428.548,408.8 Q422.2,411.8 415.852,408.8 L415.3,403.75 Z" fill="#151515" stroke="#1c1c1c" stroke-width="0.8" />
<ellipse cx="422.20" cy="401.00" rx="2.90" ry="1.30" fill="#666" stroke="none" stroke-width="1" />
<line x1="419.578" y1="404.3" x2="419.578" y2="408.8" stroke="#6a6a6a" stroke-width="0.7" />
<line x1="424.822" y1="404.3" x2="424.822" y2="408.8" stroke="#6a6a6a" stroke-width="0.7" />
<rect x="418.10" y="465.50" width="8.80" height="7.00" fill="#fff" stroke="#1c1c1c" stroke-width="1.2" rx="1.2" />
<line x1="418.1" y1="468.1" x2="426.9" y2="468.1" stroke="#1c1c1c" stroke-width="1.1" />
<line x1="418.1" y1="470.7" x2="426.9" y2="470.7" stroke="#1c1c1c" stroke-width="1.1" />
<path d="M416.09999999999997,473.8 L416.09999999999997,482.40000000000003 Q422.9,487.20000000000005 429.7,482.40000000000003 L429.7,473.8 Q422.9,468.8 416.09999999999997,473.8 Z" fill="#fff" stroke="#1c1c1c" stroke-width="1.7" />
<path d="M416.09999999999997,474.0 Q422.9,478.2 429.7,474.0" fill="none" stroke="#1c1c1c" stroke-width="1.4" />
<line x1="420.044" y1="476.0" x2="420.044" y2="484.40000000000003" stroke="#1c1c1c" stroke-width="1.1" />
<line x1="425.756" y1="476.0" x2="425.756" y2="484.40000000000003" stroke="#1c1c1c" stroke-width="1.1" />
<path d="M417.82,500.06 L417.82,503.9 Q423,507.1 428.18,503.9 L428.18,500.06 Z" fill="#151515" stroke="#1c1c1c" stroke-width="0.8" />
<path d="M417.82,491.9 L417.82,497.5 L428.18,497.5 L428.18,491.9 Z" fill="#151515" stroke="#1c1c1c" stroke-width="0.8" />
<ellipse cx="423.00" cy="492.10" rx="5.18" ry="2.50" fill="#e4e4e4" stroke="#1c1c1c" stroke-width="1.3" />
<path d="M416.0,495.9 L416.0,499.74 Q423,504.22 430.0,499.74 L430.0,495.9 Q423,500.06 416.0,495.9 Z" fill="#fff" stroke="#1c1c1c" stroke-width="1.6" />
<line x1="420.06" y1="497.82" x2="420.06" y2="501.66" stroke="#1c1c1c" stroke-width="1.0" />
<line x1="425.94" y1="497.82" x2="425.94" y2="501.66" stroke="#1c1c1c" stroke-width="1.0" />
<path d="M416.0,495.9 Q423,493.02 430.0,495.9" fill="none" stroke="#151515" stroke-width="1.6" />
<path d="M416.2,512.3 L416.2,522.8 Q423,527.6 429.8,522.8 L429.8,512.3 Q423,507.3 416.2,512.3 Z" fill="#fff" stroke="#1c1c1c" stroke-width="1.7" />
<path d="M416.2,512.5 Q423,516.7 429.8,512.5" fill="none" stroke="#1c1c1c" stroke-width="1.4" />
<line x1="420.144" y1="514.5" x2="420.144" y2="524.8" stroke="#1c1c1c" stroke-width="1.1" />
<line x1="425.856" y1="514.5" x2="425.856" y2="524.8" stroke="#1c1c1c" stroke-width="1.1" />
<path d="M417.0,512.3 Q423,507.9 429.0,512.3 Q423,516.1 417.0,512.3 Z" fill="#1d1d1d" stroke="#1c1c1c" stroke-width="0.6" />
<rect x="419.80" y="525.00" width="6.40" height="10.00" fill="#fff" stroke="#1c1c1c" stroke-width="1.1" rx="0" />
<line x1="419.8" y1="528.4" x2="426.2" y2="528.4" stroke="#1c1c1c" stroke-width="1.0" />
<line x1="419.8" y1="531.6" x2="426.2" y2="531.6" stroke="#1c1c1c" stroke-width="1.0" />
<g transform="translate(1 3) rotate(30 426 535)">
<rect x="424.00" y="531.40" width="5.00" height="7.20" fill="#151515" stroke="#1c1c1c" stroke-width="0.6" rx="0" />
<path d="M428.5,529 L438.5,529 Q441,535 438.5,541 L428.5,541 Q426,535 428.5,529 Z" fill="#fff" stroke="#1c1c1c" stroke-width="1.6" />
<line x1="428" y1="532.6" x2="439" y2="532.6" stroke="#1c1c1c" stroke-width="0.9" />
<line x1="428" y1="537.4" x2="439" y2="537.4" stroke="#1c1c1c" stroke-width="0.9" />
<ellipse cx="429.40" cy="535.00" rx="1.80" ry="5.40" fill="#333" stroke="#1c1c1c" stroke-width="0.8" />
<rect x="439.60" y="531.80" width="3.40" height="6.40" fill="#151515" stroke="#1c1c1c" stroke-width="0.6" rx="0" />
<path d="M443.5,529.6 L452.5,529.6 Q455,535 452.5,540.4 L443.5,540.4 Q441,535 443.5,529.6 Z" fill="#fff" stroke="#1c1c1c" stroke-width="1.6" />
<line x1="443" y1="533" x2="453" y2="533" stroke="#1c1c1c" stroke-width="0.9" />
<line x1="443" y1="537" x2="453" y2="537" stroke="#1c1c1c" stroke-width="0.9" />
<rect x="454.40" y="531.00" width="8.60" height="8.00" fill="#fff" stroke="#1c1c1c" stroke-width="1.1" rx="0" />
<line x1="457" y1="531" x2="457" y2="539" stroke="#1c1c1c" stroke-width="0.9" />
<line x1="459.6" y1="531" x2="459.6" y2="539" stroke="#1c1c1c" stroke-width="0.9" />
</g>
<g transform="rotate(33 408 530)">
<rect x="405.50" y="527.20" width="3.60" height="6.20" fill="#151515" stroke="#1c1c1c" stroke-width="0.6" rx="0" />
</g>
<g transform="translate(-0.4 2.2) rotate(25 625.8 521)">
<rect x="620.60" y="526.50" width="8.40" height="6.00" fill="#fff" stroke="#1c1c1c" stroke-width="1.2" rx="0" />
<line x1="620.6" y1="529.6" x2="629" y2="529.6" stroke="#1c1c1c" stroke-width="1.0" />
<path d="M618.0,516.0 L618.0,524.8 Q625.8,530.6 633.6,524.8 L633.6,516.0 Q625.8,510.2 618.0,516.0 Z" fill="#fff" stroke="#1c1c1c" stroke-width="1.9" />
<ellipse cx="625.80" cy="516.80" rx="5.80" ry="3.50" fill="#fff" stroke="#1c1c1c" stroke-width="1.4" />
<line x1="622.4" y1="521" x2="622.4" y2="527.4" stroke="#1c1c1c" stroke-width="1.1" />
<line x1="629.2" y1="521" x2="629.2" y2="527.4" stroke="#1c1c1c" stroke-width="1.1" />
</g>
<g transform="translate(698.5 548.8) rotate(60) scale(0.9) translate(-698 -549)">
<rect x="694.00" y="556.50" width="8.00" height="7.00" fill="#fff" stroke="#1c1c1c" stroke-width="1.0" rx="0" />
<line x1="694" y1="559" x2="702" y2="559" stroke="#1c1c1c" stroke-width="0.8" />
<line x1="694" y1="561.4" x2="702" y2="561.4" stroke="#1c1c1c" stroke-width="0.8" />
<path d="M690.0,543.6 L690.0,553.8 Q698,560 706,553.8 L706,543.6 Q698,537.4 690.0,543.6 Z" fill="#fff" stroke="#1c1c1c" stroke-width="1.9" />
<ellipse cx="698.00" cy="544.60" rx="6.00" ry="3.60" fill="#fff" stroke="#1c1c1c" stroke-width="1.4" />
<line x1="694.6" y1="549" x2="694.6" y2="556" stroke="#1c1c1c" stroke-width="0.9" />
<line x1="701.4" y1="549" x2="701.4" y2="556" stroke="#1c1c1c" stroke-width="0.9" />
</g>
<path d="M304.9,320 Q304.9,316.5 311.3,316.5 Q317.8,316.5 317.8,320 Z" fill="#2a2a2a" stroke="#1c1c1c" stroke-width="0.8" />
<rect x="305.70" y="319.50" width="11.30" height="59.50" fill="#4a4a4a" stroke="none" stroke-width="1" rx="0" />
<rect x="304.90" y="319.50" width="12.90" height="2.15" fill="url(#rib)" stroke="#1a1a1a" stroke-width="0.7" rx="1.0" />
<rect x="304.90" y="322.40" width="12.90" height="2.15" fill="url(#rib)" stroke="#1a1a1a" stroke-width="0.7" rx="1.0" />
<rect x="304.90" y="325.30" width="12.90" height="2.15" fill="url(#rib)" stroke="#1a1a1a" stroke-width="0.7" rx="1.0" />
<rect x="304.90" y="328.20" width="12.90" height="2.15" fill="url(#rib)" stroke="#1a1a1a" stroke-width="0.7" rx="1.0" />
<rect x="304.90" y="331.10" width="12.90" height="2.15" fill="url(#rib)" stroke="#1a1a1a" stroke-width="0.7" rx="1.0" />
<rect x="304.90" y="334.00" width="12.90" height="2.15" fill="url(#rib)" stroke="#1a1a1a" stroke-width="0.7" rx="1.0" />
<rect x="304.90" y="336.90" width="12.90" height="2.15" fill="url(#rib)" stroke="#1a1a1a" stroke-width="0.7" rx="1.0" />
<rect x="304.90" y="339.80" width="12.90" height="2.15" fill="url(#rib)" stroke="#1a1a1a" stroke-width="0.7" rx="1.0" />
<rect x="304.90" y="342.70" width="12.90" height="2.15" fill="url(#rib)" stroke="#1a1a1a" stroke-width="0.7" rx="1.0" />
<rect x="304.90" y="345.60" width="12.90" height="2.15" fill="url(#rib)" stroke="#1a1a1a" stroke-width="0.7" rx="1.0" />
<rect x="304.90" y="348.50" width="12.90" height="2.15" fill="url(#rib)" stroke="#1a1a1a" stroke-width="0.7" rx="1.0" />
<rect x="304.90" y="351.40" width="12.90" height="2.15" fill="url(#rib)" stroke="#1a1a1a" stroke-width="0.7" rx="1.0" />
<rect x="304.90" y="354.30" width="12.90" height="2.15" fill="url(#rib)" stroke="#1a1a1a" stroke-width="0.7" rx="1.0" />
<rect x="304.90" y="357.20" width="12.90" height="2.15" fill="url(#rib)" stroke="#1a1a1a" stroke-width="0.7" rx="1.0" />
<rect x="304.90" y="360.10" width="12.90" height="2.15" fill="url(#rib)" stroke="#1a1a1a" stroke-width="0.7" rx="1.0" />
<rect x="304.90" y="363.00" width="12.90" height="2.15" fill="url(#rib)" stroke="#1a1a1a" stroke-width="0.7" rx="1.0" />
<rect x="304.90" y="365.90" width="12.90" height="2.15" fill="url(#rib)" stroke="#1a1a1a" stroke-width="0.7" rx="1.0" />
<rect x="304.90" y="368.80" width="12.90" height="2.15" fill="url(#rib)" stroke="#1a1a1a" stroke-width="0.7" rx="1.0" />
<rect x="304.90" y="371.70" width="12.90" height="2.15" fill="url(#rib)" stroke="#1a1a1a" stroke-width="0.7" rx="1.0" />
<rect x="304.90" y="374.60" width="12.90" height="2.15" fill="url(#rib)" stroke="#1a1a1a" stroke-width="0.7" rx="1.0" />
<rect x="304.90" y="377.50" width="12.90" height="1.50" fill="url(#rib)" stroke="#1a1a1a" stroke-width="0.7" rx="1.0" />
<rect x="307.40" y="379.00" width="8.80" height="9.00" fill="#e8e8e8" stroke="#1c1c1c" stroke-width="1.1" rx="0" />
<line x1="307.4" y1="382" x2="316.2" y2="382" stroke="#1c1c1c" stroke-width="1.0" />
<line x1="307.4" y1="385" x2="316.2" y2="385" stroke="#1c1c1c" stroke-width="1.0" />
<path d="M303.6,388.8 L303.6,396.6 Q311.3,401.40000000000003 319.0,396.6 L319.0,388.8 Q311.3,383.8 303.6,388.8 Z" fill="#fff" stroke="#1c1c1c" stroke-width="1.7" />
<path d="M303.6,389.0 Q311.3,393.2 319.0,389.0" fill="none" stroke="#1c1c1c" stroke-width="1.4" />
<line x1="308.06600000000003" y1="391.0" x2="308.06600000000003" y2="398.6" stroke="#1c1c1c" stroke-width="1.1" />
<line x1="314.534" y1="391.0" x2="314.534" y2="398.6" stroke="#1c1c1c" stroke-width="1.1" />
<path d="M305.976,413.25 L305.976,417.59999999999997 Q311.6,420.8 317.22400000000005,417.59999999999997 L317.22400000000005,413.25 Z" fill="#151515" stroke="#1c1c1c" stroke-width="0.8" />
<path d="M305.976,404.09999999999997 L305.976,410.45 L317.22400000000005,410.45 L317.22400000000005,404.09999999999997 Z" fill="#151515" stroke="#1c1c1c" stroke-width="0.8" />
<ellipse cx="311.60" cy="404.30" rx="5.62" ry="2.50" fill="#e4e4e4" stroke="#1c1c1c" stroke-width="1.3" />
<path d="M304.0,408.7 L304.0,412.9 Q311.6,417.8 319.20000000000005,412.9 L319.20000000000005,408.7 Q311.6,413.25 304.0,408.7 Z" fill="#fff" stroke="#1c1c1c" stroke-width="1.6" />
<line x1="308.408" y1="410.8" x2="308.408" y2="415.0" stroke="#1c1c1c" stroke-width="1.0" />
<line x1="314.79200000000003" y1="410.8" x2="314.79200000000003" y2="415.0" stroke="#1c1c1c" stroke-width="1.0" />
<path d="M304.0,408.7 Q311.6,405.55 319.20000000000005,408.7" fill="none" stroke="#151515" stroke-width="1.6" />
<path d="M304.1,424.8 L304.1,431.40000000000003 Q311.5,436.20000000000005 318.9,431.40000000000003 L318.9,424.8 Q311.5,419.8 304.1,424.8 Z" fill="#fff" stroke="#1c1c1c" stroke-width="1.7" />
<path d="M304.1,425.0 Q311.5,429.2 318.9,425.0" fill="none" stroke="#1c1c1c" stroke-width="1.4" />
<line x1="308.392" y1="427.0" x2="308.392" y2="433.40000000000003" stroke="#1c1c1c" stroke-width="1.1" />
<line x1="314.608" y1="427.0" x2="314.608" y2="433.40000000000003" stroke="#1c1c1c" stroke-width="1.1" />
<path d="M304.90000000000003,424.8 Q311.5,420.4 318.09999999999997,424.8 Q311.5,428.6 304.90000000000003,424.8 Z" fill="#1d1d1d" stroke="#1c1c1c" stroke-width="0.6" />
<rect x="307.60" y="434.60" width="8.40" height="9.00" fill="#fff" stroke="#1c1c1c" stroke-width="1.1" rx="0" />
<line x1="307.6" y1="437.6" x2="316" y2="437.6" stroke="#1c1c1c" stroke-width="1.0" />
<line x1="307.6" y1="440.6" x2="316" y2="440.6" stroke="#1c1c1c" stroke-width="1.0" />
<rect x="41.00" y="682.60" width="369.00" height="10.80" fill="url(#hatch)" stroke="#333" stroke-width="0.8" rx="0" />
<rect x="59.70" y="682.00" width="29.10" height="12.00" fill="#fff" stroke="none" stroke-width="1" rx="0" />
<line x1="59.7" y1="682.6" x2="59.7" y2="693.4" stroke="#333" stroke-width="0.8" />
<line x1="88.8" y1="682.6" x2="88.8" y2="693.4" stroke="#333" stroke-width="0.8" />
<rect x="133.40" y="682.00" width="33.00" height="12.00" fill="#fff" stroke="none" stroke-width="1" rx="0" />
<line x1="133.4" y1="682.6" x2="133.4" y2="693.4" stroke="#333" stroke-width="0.8" />
<line x1="166.4" y1="682.6" x2="166.4" y2="693.4" stroke="#333" stroke-width="0.8" />
<rect x="207.60" y="682.00" width="33.00" height="12.00" fill="#fff" stroke="none" stroke-width="1" rx="0" />
<line x1="207.6" y1="682.6" x2="207.6" y2="693.4" stroke="#333" stroke-width="0.8" />
<line x1="240.6" y1="682.6" x2="240.6" y2="693.4" stroke="#333" stroke-width="0.8" />
<rect x="284.60" y="682.00" width="28.80" height="12.00" fill="#fff" stroke="none" stroke-width="1" rx="0" />
<line x1="284.6" y1="682.6" x2="284.6" y2="693.4" stroke="#333" stroke-width="0.8" />
<line x1="313.4" y1="682.6" x2="313.4" y2="693.4" stroke="#333" stroke-width="0.8" />
<rect x="359.40" y="682.00" width="29.80" height="12.00" fill="#fff" stroke="none" stroke-width="1" rx="0" />
<line x1="359.4" y1="682.6" x2="359.4" y2="693.4" stroke="#333" stroke-width="0.8" />
<line x1="389.2" y1="682.6" x2="389.2" y2="693.4" stroke="#333" stroke-width="0.8" />
<rect x="65.00" y="596.00" width="19.00" height="67.50" fill="#fff" stroke="#1c1c1c" stroke-width="1.2" rx="0" />
<path d="M65,596.5 L65.4,588 L82.6,588 L84,596.5 Z" fill="#fff" stroke="#1c1c1c" stroke-width="1.1" />
<path d="M66,594.2 Q74.5,598.4 83,594.2" fill="none" stroke="#1c1c1c" stroke-width="1.0" />
<ellipse cx="74.00" cy="581.00" rx="9.30" ry="9.30" fill="#fff" stroke="#1c1c1c" stroke-width="1.5" />
<ellipse cx="74.00" cy="581.00" rx="5.60" ry="5.60" fill="#fff" stroke="#1c1c1c" stroke-width="2.0" />
<ellipse cx="74.00" cy="581.00" rx="3.00" ry="3.00" fill="#e4e4e4" stroke="#1c1c1c" stroke-width="0.9" />
<line x1="72.4" y1="582.8" x2="75.6" y2="579.2" stroke="#1c1c1c" stroke-width="1.0" />
<rect x="65.00" y="662.80" width="19.00" height="3.20" fill="#151515" stroke="#1c1c1c" stroke-width="0.6" rx="0" />
<path d="M65.4,666 L66.4,678.6 L82.4,678.6 L83.4,666" fill="#fff" stroke="#1c1c1c" stroke-width="1.1" />
<rect x="56.00" y="678.60" width="35.60" height="3.60" fill="#fff" stroke="#1c1c1c" stroke-width="1.1" rx="0" />
<rect x="59.40" y="682.20" width="28.60" height="3.40" fill="#fff" stroke="#1c1c1c" stroke-width="0.9" rx="0" />
<rect x="60.50" y="687.00" width="26.30" height="24.60" fill="#1a1a1a" stroke="none" stroke-width="1" rx="0" />
<line x1="60.5" y1="687.85" x2="86.8" y2="687.85" stroke="#5a5a5a" stroke-width="0.45" />
<line x1="60.5" y1="689.55" x2="86.8" y2="689.55" stroke="#5a5a5a" stroke-width="0.45" />
<line x1="60.5" y1="691.25" x2="86.8" y2="691.25" stroke="#5a5a5a" stroke-width="0.45" />
<line x1="60.5" y1="692.95" x2="86.8" y2="692.95" stroke="#5a5a5a" stroke-width="0.45" />
<line x1="60.5" y1="694.65" x2="86.8" y2="694.65" stroke="#5a5a5a" stroke-width="0.45" />
<line x1="60.5" y1="696.35" x2="86.8" y2="696.35" stroke="#5a5a5a" stroke-width="0.45" />
<line x1="60.5" y1="698.05" x2="86.8" y2="698.05" stroke="#5a5a5a" stroke-width="0.45" />
<line x1="60.5" y1="699.75" x2="86.8" y2="699.75" stroke="#5a5a5a" stroke-width="0.45" />
<line x1="60.5" y1="701.45" x2="86.8" y2="701.45" stroke="#5a5a5a" stroke-width="0.45" />
<line x1="60.5" y1="703.15" x2="86.8" y2="703.15" stroke="#5a5a5a" stroke-width="0.45" />
<line x1="60.5" y1="704.85" x2="86.8" y2="704.85" stroke="#5a5a5a" stroke-width="0.45" />
<line x1="60.5" y1="706.55" x2="86.8" y2="706.55" stroke="#5a5a5a" stroke-width="0.45" />
<line x1="60.5" y1="708.25" x2="86.8" y2="708.25" stroke="#5a5a5a" stroke-width="0.45" />
<line x1="60.5" y1="709.95" x2="86.8" y2="709.95" stroke="#5a5a5a" stroke-width="0.45" />
<rect x="60.50" y="687.00" width="26.30" height="24.60" fill="none" stroke="#1c1c1c" stroke-width="0.9" rx="0" />
<rect x="56.00" y="711.60" width="36.00" height="13.60" fill="#fff" stroke="#1c1c1c" stroke-width="1.2" rx="0" />
<line x1="64" y1="711.6" x2="64" y2="725.2" stroke="#1c1c1c" stroke-width="0.9" />
<line x1="84" y1="711.6" x2="84" y2="725.2" stroke="#1c1c1c" stroke-width="0.9" />
<line x1="56" y1="714" x2="92" y2="714" stroke="#1c1c1c" stroke-width="0.8" />
<path d="M59,725.2 L59,739.5 L63,747.5 L85.4,747.5 L89.6,739.5 L89.6,725.2 Z" fill="#fff" stroke="#1c1c1c" stroke-width="1.1" />
<line x1="59" y1="739.5" x2="89.6" y2="739.5" stroke="#1c1c1c" stroke-width="0.8" />
<path d="M62,743 L86,740" fill="none" stroke="#1c1c1c" stroke-width="0.8" />
<path d="M62.5,746 L86,743" fill="none" stroke="#1c1c1c" stroke-width="0.8" />
<rect x="68.00" y="747.50" width="13.60" height="16.60" fill="#fff" stroke="#1c1c1c" stroke-width="1.2" rx="0" />
<rect x="58.40" y="755.00" width="4.80" height="15.00" fill="#fff" stroke="#1c1c1c" stroke-width="1.0" rx="0" />
<line x1="60" y1="749" x2="60" y2="755" stroke="#1c1c1c" stroke-width="0.9" />
<line x1="58" y1="693" x2="58" y2="779" stroke="#666" stroke-width="0.6" />
<line x1="89.8" y1="693" x2="89.8" y2="779" stroke="#666" stroke-width="0.6" />
<line x1="58" y1="779" x2="89.8" y2="779" stroke="#666" stroke-width="0.6" />
<rect x="136.20" y="652.80" width="26.80" height="18.60" fill="#fff" stroke="#1c1c1c" stroke-width="1.2" rx="0" />
<rect x="136.80" y="671.40" width="25.60" height="8.00" fill="#fff" stroke="#1c1c1c" stroke-width="1.1" rx="0" />
<ellipse cx="148.20" cy="656.20" rx="2.30" ry="2.20" fill="#fff" stroke="#1c1c1c" stroke-width="1.1" />
<rect x="131.80" y="679.40" width="34.40" height="3.40" fill="#fff" stroke="#1c1c1c" stroke-width="1.1" rx="0" />
<rect x="136.20" y="682.80" width="26.80" height="37.60" fill="#151515" stroke="#1c1c1c" stroke-width="0.6" rx="0" />
<line x1="127.79999999999998" y1="695.2" x2="171.4" y2="695.2" stroke="#1c1c1c" stroke-width="1.2" />
<line x1="132.2" y1="682.8" x2="132.2" y2="695" stroke="#1c1c1c" stroke-width="0.8" />
<line x1="167.0" y1="682.8" x2="167.0" y2="695" stroke="#1c1c1c" stroke-width="0.8" />
<rect x="136.80" y="696.20" width="11.60" height="1.60" fill="#fff" stroke="none" stroke-width="1" rx="0" />
<rect x="150.80" y="696.20" width="11.60" height="1.60" fill="#fff" stroke="none" stroke-width="1" rx="0" />
<rect x="210.40" y="652.80" width="26.80" height="18.60" fill="#fff" stroke="#1c1c1c" stroke-width="1.2" rx="0" />
<rect x="211.00" y="671.40" width="25.60" height="8.00" fill="#fff" stroke="#1c1c1c" stroke-width="1.1" rx="0" />
<ellipse cx="222.40" cy="656.20" rx="2.30" ry="2.20" fill="#fff" stroke="#1c1c1c" stroke-width="1.1" />
<rect x="206.00" y="679.40" width="34.40" height="3.40" fill="#fff" stroke="#1c1c1c" stroke-width="1.1" rx="0" />
<rect x="210.40" y="682.80" width="26.80" height="37.60" fill="#151515" stroke="#1c1c1c" stroke-width="0.6" rx="0" />
<line x1="202.0" y1="695.2" x2="245.60000000000002" y2="695.2" stroke="#1c1c1c" stroke-width="1.2" />
<line x1="206.4" y1="682.8" x2="206.4" y2="695" stroke="#1c1c1c" stroke-width="0.8" />
<line x1="241.20000000000002" y1="682.8" x2="241.20000000000002" y2="695" stroke="#1c1c1c" stroke-width="0.8" />
<rect x="211.00" y="696.20" width="11.60" height="1.60" fill="#fff" stroke="none" stroke-width="1" rx="0" />
<rect x="225.00" y="696.20" width="11.60" height="1.60" fill="#fff" stroke="none" stroke-width="1" rx="0" />
<rect x="128.70" y="720.50" width="40.00" height="39.20" fill="#fff" stroke="#1c1c1c" stroke-width="1.2" rx="0" />
<line x1="133" y1="720.5" x2="133" y2="766.6" stroke="#666" stroke-width="0.6" />
<line x1="164.2" y1="720.5" x2="164.2" y2="766.6" stroke="#666" stroke-width="0.6" />
<line x1="133" y1="766.6" x2="164.2" y2="766.6" stroke="#666" stroke-width="0.6" />
<rect x="204.50" y="720.50" width="39.00" height="37.60" fill="#fff" stroke="#1c1c1c" stroke-width="1.2" rx="0" />
<rect x="205.60" y="758.10" width="14.00" height="12.00" fill="#fff" stroke="#1c1c1c" stroke-width="1.0" rx="0" />
<rect x="204.60" y="770.10" width="16.00" height="8.60" fill="#fff" stroke="#1c1c1c" stroke-width="1.2" rx="0" />
<line x1="204.6" y1="773" x2="220.6" y2="773" stroke="#1c1c1c" stroke-width="0.8" />
<line x1="208" y1="773" x2="208" y2="778.7" stroke="#1c1c1c" stroke-width="0.7" />
<line x1="217" y1="773" x2="217" y2="778.7" stroke="#1c1c1c" stroke-width="0.7" />
<rect x="226.60" y="758.10" width="16.40" height="12.00" fill="#fff" stroke="#1c1c1c" stroke-width="1.0" rx="0" />
<rect x="226.20" y="770.10" width="17.20" height="7.50" fill="#1b1b1b" stroke="none" stroke-width="1" rx="0" />
<line x1="226.2" y1="770.85" x2="243.4" y2="770.85" stroke="#666" stroke-width="0.45" />
<line x1="226.2" y1="772.35" x2="243.4" y2="772.35" stroke="#666" stroke-width="0.45" />
<line x1="226.2" y1="773.85" x2="243.4" y2="773.85" stroke="#666" stroke-width="0.45" />
<line x1="226.2" y1="775.35" x2="243.4" y2="775.35" stroke="#666" stroke-width="0.45" />
<line x1="226.2" y1="776.85" x2="243.4" y2="776.85" stroke="#666" stroke-width="0.45" />
<line x1="209" y1="720.5" x2="209" y2="786.5" stroke="#666" stroke-width="0.6" />
<line x1="239.6" y1="720.5" x2="239.6" y2="786.5" stroke="#666" stroke-width="0.6" />
<line x1="209" y1="786.5" x2="239.6" y2="786.5" stroke="#666" stroke-width="0.6" />
<path d="M290,671 L290,495.5 A9.4,9.4 0 0 1 308.8,495.5 L308.8,671 Z" fill="#fff" stroke="#1c1c1c" stroke-width="1.2" />
<path d="M290.6,590 L290.6,579 Q290.6,576.6 293,576.6 L305.8,576.6 Q308.2,576.6 308.2,579 L308.2,590 Z" fill="#fff" stroke="#1c1c1c" stroke-width="1.0" />
<rect x="297.60" y="589.40" width="3.80" height="2.40" fill="#fff" stroke="#1c1c1c" stroke-width="0.8" rx="0" />
<rect x="285.80" y="671.00" width="27.00" height="8.40" fill="#fff" stroke="#1c1c1c" stroke-width="1.2" rx="0" />
<rect x="281.80" y="679.40" width="35.20" height="3.40" fill="#fff" stroke="#1c1c1c" stroke-width="1.1" rx="0" />
<rect x="286.60" y="682.80" width="24.60" height="36.20" fill="#1e1e1e" stroke="none" stroke-width="1" rx="0" />
<line x1="286.6" y1="683.55" x2="311.2" y2="683.55" stroke="#6a6a6a" stroke-width="0.45" />
<line x1="286.6" y1="685.05" x2="311.2" y2="685.05" stroke="#6a6a6a" stroke-width="0.45" />
<line x1="286.6" y1="686.55" x2="311.2" y2="686.55" stroke="#6a6a6a" stroke-width="0.45" />
<line x1="286.6" y1="688.05" x2="311.2" y2="688.05" stroke="#6a6a6a" stroke-width="0.45" />
<line x1="286.6" y1="689.55" x2="311.2" y2="689.55" stroke="#6a6a6a" stroke-width="0.45" />
<line x1="286.6" y1="691.05" x2="311.2" y2="691.05" stroke="#6a6a6a" stroke-width="0.45" />
<line x1="286.6" y1="692.55" x2="311.2" y2="692.55" stroke="#6a6a6a" stroke-width="0.45" />
<line x1="286.6" y1="694.05" x2="311.2" y2="694.05" stroke="#6a6a6a" stroke-width="0.45" />
<line x1="286.6" y1="695.55" x2="311.2" y2="695.55" stroke="#6a6a6a" stroke-width="0.45" />
<line x1="286.6" y1="697.05" x2="311.2" y2="697.05" stroke="#6a6a6a" stroke-width="0.45" />
<line x1="286.6" y1="698.55" x2="311.2" y2="698.55" stroke="#6a6a6a" stroke-width="0.45" />
<line x1="286.6" y1="700.05" x2="311.2" y2="700.05" stroke="#6a6a6a" stroke-width="0.45" />
<line x1="286.6" y1="701.55" x2="311.2" y2="701.55" stroke="#6a6a6a" stroke-width="0.45" />
<line x1="286.6" y1="703.05" x2="311.2" y2="703.05" stroke="#6a6a6a" stroke-width="0.45" />
<line x1="286.6" y1="704.55" x2="311.2" y2="704.55" stroke="#6a6a6a" stroke-width="0.45" />
<line x1="286.6" y1="706.05" x2="311.2" y2="706.05" stroke="#6a6a6a" stroke-width="0.45" />
<line x1="286.6" y1="707.55" x2="311.2" y2="707.55" stroke="#6a6a6a" stroke-width="0.45" />
<line x1="286.6" y1="709.05" x2="311.2" y2="709.05" stroke="#6a6a6a" stroke-width="0.45" />
<line x1="286.6" y1="710.55" x2="311.2" y2="710.55" stroke="#6a6a6a" stroke-width="0.45" />
<line x1="286.6" y1="712.05" x2="311.2" y2="712.05" stroke="#6a6a6a" stroke-width="0.45" />
<line x1="286.6" y1="713.55" x2="311.2" y2="713.55" stroke="#6a6a6a" stroke-width="0.45" />
<line x1="286.6" y1="715.05" x2="311.2" y2="715.05" stroke="#6a6a6a" stroke-width="0.45" />
<line x1="286.6" y1="716.55" x2="311.2" y2="716.55" stroke="#6a6a6a" stroke-width="0.45" />
<line x1="286.6" y1="718.05" x2="311.2" y2="718.05" stroke="#6a6a6a" stroke-width="0.45" />
<rect x="286.60" y="682.80" width="24.60" height="36.20" fill="none" stroke="#1c1c1c" stroke-width="0.8" rx="0" />
<line x1="283.5" y1="693" x2="283.5" y2="727.5" stroke="#666" stroke-width="0.6" />
<line x1="315" y1="693" x2="315" y2="727.5" stroke="#666" stroke-width="0.6" />
<line x1="283.5" y1="727.5" x2="315" y2="727.5" stroke="#666" stroke-width="0.6" />
<rect x="360.00" y="651.80" width="27.60" height="19.40" fill="#fff" stroke="#1c1c1c" stroke-width="1.2" rx="0" />
<rect x="361.00" y="671.20" width="25.60" height="8.00" fill="#fff" stroke="#1c1c1c" stroke-width="1.1" rx="0" />
<ellipse cx="373.60" cy="656.20" rx="2.60" ry="2.20" fill="#fff" stroke="#1c1c1c" stroke-width="1.1" />
<rect x="357.00" y="679.20" width="34.00" height="3.40" fill="#fff" stroke="#1c1c1c" stroke-width="1.1" rx="0" />
<rect x="361.60" y="682.60" width="25.40" height="36.40" fill="#1b1b1b" stroke="none" stroke-width="1" rx="0" />
<line x1="361.6" y1="683.35" x2="387" y2="683.35" stroke="#555" stroke-width="0.45" />
<line x1="361.6" y1="684.85" x2="387" y2="684.85" stroke="#555" stroke-width="0.45" />
<line x1="361.6" y1="686.35" x2="387" y2="686.35" stroke="#555" stroke-width="0.45" />
<line x1="361.6" y1="687.85" x2="387" y2="687.85" stroke="#555" stroke-width="0.45" />
<line x1="361.6" y1="689.35" x2="387" y2="689.35" stroke="#555" stroke-width="0.45" />
<line x1="361.6" y1="690.85" x2="387" y2="690.85" stroke="#555" stroke-width="0.45" />
<line x1="361.6" y1="692.35" x2="387" y2="692.35" stroke="#555" stroke-width="0.45" />
<line x1="361.6" y1="693.85" x2="387" y2="693.85" stroke="#555" stroke-width="0.45" />
<line x1="361.6" y1="695.35" x2="387" y2="695.35" stroke="#555" stroke-width="0.45" />
<line x1="361.6" y1="696.85" x2="387" y2="696.85" stroke="#555" stroke-width="0.45" />
<line x1="361.6" y1="698.35" x2="387" y2="698.35" stroke="#555" stroke-width="0.45" />
<line x1="361.6" y1="699.85" x2="387" y2="699.85" stroke="#555" stroke-width="0.45" />
<line x1="361.6" y1="701.35" x2="387" y2="701.35" stroke="#555" stroke-width="0.45" />
<line x1="361.6" y1="702.85" x2="387" y2="702.85" stroke="#555" stroke-width="0.45" />
<line x1="361.6" y1="704.35" x2="387" y2="704.35" stroke="#555" stroke-width="0.45" />
<line x1="361.6" y1="705.85" x2="387" y2="705.85" stroke="#555" stroke-width="0.45" />
<line x1="361.6" y1="707.35" x2="387" y2="707.35" stroke="#555" stroke-width="0.45" />
<line x1="361.6" y1="708.85" x2="387" y2="708.85" stroke="#555" stroke-width="0.45" />
<line x1="361.6" y1="710.35" x2="387" y2="710.35" stroke="#555" stroke-width="0.45" />
<line x1="361.6" y1="711.85" x2="387" y2="711.85" stroke="#555" stroke-width="0.45" />
<line x1="361.6" y1="713.35" x2="387" y2="713.35" stroke="#555" stroke-width="0.45" />
<line x1="361.6" y1="714.85" x2="387" y2="714.85" stroke="#555" stroke-width="0.45" />
<line x1="361.6" y1="716.35" x2="387" y2="716.35" stroke="#555" stroke-width="0.45" />
<line x1="361.6" y1="717.85" x2="387" y2="717.85" stroke="#555" stroke-width="0.45" />
<line x1="351" y1="695.6" x2="397" y2="695.6" stroke="#1c1c1c" stroke-width="1.2" />
<line x1="358.4" y1="683" x2="358.4" y2="727.6" stroke="#666" stroke-width="0.6" />
<line x1="389.6" y1="683" x2="389.6" y2="727.6" stroke="#666" stroke-width="0.6" />
<line x1="358.4" y1="727.6" x2="389.6" y2="727.6" stroke="#666" stroke-width="0.6" />
<rect x="358.60" y="696.60" width="31.60" height="5.60" fill="#151515" stroke="#1c1c1c" stroke-width="0.6" rx="2" />
<ellipse cx="362.60" cy="699.40" rx="2.60" ry="2.00" fill="#fff" stroke="#1c1c1c" stroke-width="0.5" />
<ellipse cx="373.40" cy="699.40" rx="5.60" ry="2.20" fill="#fff" stroke="#1c1c1c" stroke-width="0.5" />
<ellipse cx="385.60" cy="699.40" rx="2.60" ry="2.00" fill="#fff" stroke="#1c1c1c" stroke-width="0.5" />
<line x1="410" y1="682.8" x2="414.4" y2="682.8" stroke="#666" stroke-width="0.6" />
<line x1="410" y1="693.2" x2="414.4" y2="693.2" stroke="#666" stroke-width="0.6" />
<line x1="414.2" y1="682.8" x2="414.2" y2="693.2" stroke="#666" stroke-width="0.6" />
<text x="301.0" y="181.5" font-size="8.8" font-weight="bold" fill="#3a3535" textLength="10.5" lengthAdjust="spacingAndGlyphs">05</text>
<text x="334.0" y="235.1" font-size="8.8" font-weight="bold" fill="#3a3535" textLength="10.6" lengthAdjust="spacingAndGlyphs">04</text>
<text x="437.0" y="269.2" font-size="8.8" font-weight="bold" fill="#3a3535" textLength="10.4" lengthAdjust="spacingAndGlyphs">03</text>
<text x="517.8" y="210.8" font-size="8.8" font-weight="bold" fill="#3a3535" textLength="10.2" lengthAdjust="spacingAndGlyphs">02</text>
<text x="621.8" y="376.8" font-size="8.8" font-weight="bold" fill="#3a3535" textLength="9.7" lengthAdjust="spacingAndGlyphs">01</text>
<text x="185.0" y="286.7" font-size="9.3" font-weight="bold" fill="#3a3535" textLength="66.8" lengthAdjust="spacingAndGlyphs">Sewage&#160; drain</text>
<text x="165.0" y="299.2" font-size="9.3" font-weight="normal" fill="#8a8585" textLength="86.8" lengthAdjust="spacingAndGlyphs">Saída para esgoto</text>
<text x="61.8" y="357.7" font-size="9.3" font-weight="bold" fill="#3a3535" textLength="92.7" lengthAdjust="spacingAndGlyphs">Sewage&#160; drain tube</text>
<text x="26.8" y="370.1" font-size="9.3" font-weight="normal" fill="#8a8585" textLength="127.7" lengthAdjust="spacingAndGlyphs">Tubo de saída para esgoto</text>
<text x="504.6" y="266.9" font-size="9.3" font-weight="bold" fill="#3a3535" textLength="91.4" lengthAdjust="spacingAndGlyphs">Filtered water tube</text>
<text x="504.6" y="279.3" font-size="9.3" font-weight="normal" fill="#8a8585" textLength="102.4" lengthAdjust="spacingAndGlyphs">Tubo de água filtrada</text>
<text x="593.5" y="348.9" font-size="9.3" font-weight="bold" fill="#3a3535" textLength="106.1" lengthAdjust="spacingAndGlyphs">Hot water inlet G3/8"F</text>
<text x="585.4" y="361.1" font-size="9.3" font-weight="normal" fill="#8a8585" textLength="114.2" lengthAdjust="spacingAndGlyphs">Entrada de água quente</text>
<text x="509.6" y="452.0" font-size="9.3" font-weight="bold" fill="#3a3535" textLength="58.4" lengthAdjust="spacingAndGlyphs">Public water</text>
<text x="509.6" y="464.3" font-size="9.3" font-weight="normal" fill="#8a8585" textLength="62.4" lengthAdjust="spacingAndGlyphs">Água de rede</text>
<text x="515.0" y="510.8" font-size="9.3" font-weight="bold" fill="#3a3535" textLength="66.2" lengthAdjust="spacingAndGlyphs">Filtered water</text>
<text x="515.0" y="523.1" font-size="9.3" font-weight="normal" fill="#8a8585" textLength="62.4" lengthAdjust="spacingAndGlyphs">Água filtrada</text>
<text x="595.8" y="668.9" font-size="9.3" font-weight="bold" fill="#3a3535" textLength="111.5" lengthAdjust="spacingAndGlyphs">Cold water inlet G3/8"F</text>
<text x="609.5" y="681.7" font-size="9.3" font-weight="normal" fill="#8a8585" textLength="97.8" lengthAdjust="spacingAndGlyphs">Entrada de água fria</text>
<text x="516.5" y="485.8" font-size="8.2" font-weight="bold" fill="#222" textLength="26.9" lengthAdjust="spacingAndGlyphs">M10x2</text>
<text x="589.0" y="472.2" font-size="8.2" font-weight="bold" fill="#222" textLength="26.6" lengthAdjust="spacingAndGlyphs">M10x3</text>
<text x="361.9" y="389.5" font-size="9.8" font-weight="normal" fill="#4a4545" textLength="19.5" lengthAdjust="spacingAndGlyphs">Cap</text>
<text x="356.0" y="402.1" font-size="10" font-weight="normal" fill="#8a8585" textLength="32.0" lengthAdjust="spacingAndGlyphs">Tampa</text>
<text x="342.5" y="361.5" font-size="8.6" font-weight="bold" fill="#3a3030" textLength="32.5" lengthAdjust="spacingAndGlyphs">G3/8"M</text>
<text x="402.8" y="397.7" font-size="8.6" font-weight="bold" fill="#3a3030" textLength="29.6" lengthAdjust="spacingAndGlyphs">G1/2"F</text>
<text x="432.4" y="406.0" font-size="8.6" font-weight="bold" fill="#3a3030" textLength="31.6" lengthAdjust="spacingAndGlyphs">G3/8"M</text>
<text x="357.0" y="413.5" font-size="8.6" font-weight="bold" fill="#3a3030" textLength="29.3" lengthAdjust="spacingAndGlyphs">G1/2"F</text>
<text x="354.3" y="429.1" font-size="8.6" font-weight="bold" fill="#3a3030" textLength="33.0" lengthAdjust="spacingAndGlyphs">G3/8"M</text>
<text x="274.5" y="404.9" font-size="8.6" font-weight="bold" fill="#3a3030" textLength="30.3" lengthAdjust="spacingAndGlyphs">G3/8"F</text>
<text x="266.8" y="424.6" font-size="8.6" font-weight="bold" fill="#3a3030" textLength="40.2" lengthAdjust="spacingAndGlyphs">G3/8"MM</text>
<text x="274.0" y="440.1" font-size="8.6" font-weight="bold" fill="#3a3030" textLength="29.0" lengthAdjust="spacingAndGlyphs">G3/8"F</text>
<text x="440.0" y="481.8" font-size="8.6" font-weight="bold" fill="#3a3030" textLength="29.7" lengthAdjust="spacingAndGlyphs">G3/8"F</text>
<text x="436.7" y="499.9" font-size="8.6" font-weight="bold" fill="#3a3030" textLength="41.3" lengthAdjust="spacingAndGlyphs">G3/8"MM</text>
<text x="440.0" y="519.7" font-size="8.6" font-weight="bold" fill="#3a3030" textLength="29.7" lengthAdjust="spacingAndGlyphs">G3/8"F</text>
<text x="441.0" y="535.1" font-size="8.6" font-weight="bold" fill="#3a3030" textLength="40.9" lengthAdjust="spacingAndGlyphs">G3/8"MM</text>
<text x="372.4" y="553.1" font-size="8.6" font-weight="bold" fill="#3a3030" textLength="42.2" lengthAdjust="spacingAndGlyphs">G3/8"FX2</text>
<text x="18.0" y="459.2" font-size="8.8" font-weight="bold" fill="#3a3535" textLength="30.6" lengthAdjust="spacingAndGlyphs">Built-In</text>
<text x="18.0" y="470.6" font-size="8.8" font-weight="normal" fill="#8a8585" textLength="37.6" lengthAdjust="spacingAndGlyphs">Encastre</text>
<text x="18.0" y="502.9" font-size="8.8" font-weight="bold" fill="#3a3535" textLength="105.6" lengthAdjust="spacingAndGlyphs">A - Min 10mm Max 20mm</text>
<text x="18.0" y="519.4" font-size="8.8" font-weight="bold" fill="#3a3535" textLength="98.2" lengthAdjust="spacingAndGlyphs">X - Recommended Drill</text>
<text x="18.0" y="530.5" font-size="8.8" font-weight="normal" fill="#8a8585" textLength="137.4" lengthAdjust="spacingAndGlyphs">Furação Recomendada Ø35mm</text>
<text x="18.0" y="547.0" font-size="8.8" font-weight="bold" fill="#3a3535" textLength="122.0" lengthAdjust="spacingAndGlyphs">W - Recommended Distance</text>
<text x="18.0" y="558.1" font-size="8.8" font-weight="normal" fill="#8a8585" textLength="154.2" lengthAdjust="spacingAndGlyphs">Distância Recomendada 90/100mm</text>
<text x="21.5" y="635.8" font-size="7.8" font-weight="bold" fill="#454550" textLength="27.0" lengthAdjust="spacingAndGlyphs">T1.630</text>
<text x="21.5" y="735.8" font-size="7.8" font-weight="bold" fill="#454550" textLength="36.9" lengthAdjust="spacingAndGlyphs">TMA.600</text>
<text x="131.0" y="644.7" font-size="7.8" font-weight="bold" fill="#454550" textLength="36.7" lengthAdjust="spacingAndGlyphs">T1.43.B.E</text>
<text x="206.0" y="645.1" font-size="7.8" font-weight="bold" fill="#454550" textLength="37.0" lengthAdjust="spacingAndGlyphs">T1.43.B.E</text>
<text x="231.5" y="605.8" font-size="7.8" font-weight="bold" fill="#454550" textLength="54.9" lengthAdjust="spacingAndGlyphs">T1.B1.38U.R.P</text>
<text x="357.4" y="645.8" font-size="7.8" font-weight="bold" fill="#454550" textLength="32.6" lengthAdjust="spacingAndGlyphs">T1.14.SV</text>
<text x="120.0" y="791.6" font-size="7.8" font-weight="bold" fill="#454550" textLength="54.6" lengthAdjust="spacingAndGlyphs">TMA.43F34.B</text>
<text x="248.6" y="787.2" font-size="7.8" font-weight="bold" fill="#454550" textLength="47.4" lengthAdjust="spacingAndGlyphs">T1.48.2S.B.I</text>
<text x="105.9" y="707.8" font-size="7.8" font-weight="bold" fill="#454550" textLength="7.2" lengthAdjust="spacingAndGlyphs">W</text>
<text x="177.0" y="707.8" font-size="7.8" font-weight="bold" fill="#454550" textLength="7.2" lengthAdjust="spacingAndGlyphs">W</text>
<text x="251.4" y="707.8" font-size="7.8" font-weight="bold" fill="#454550" textLength="7.2" lengthAdjust="spacingAndGlyphs">W</text>
<text x="331.4" y="707.8" font-size="7.8" font-weight="bold" fill="#454550" textLength="7.2" lengthAdjust="spacingAndGlyphs">W</text>
<text x="71.6" y="789.5" font-size="7.8" font-weight="bold" fill="#454550" textLength="4.8" lengthAdjust="spacingAndGlyphs">X</text>
<text x="146.6" y="775.8" font-size="7.8" font-weight="bold" fill="#454550" textLength="4.8" lengthAdjust="spacingAndGlyphs">X</text>
<text x="222.6" y="795.3" font-size="7.8" font-weight="bold" fill="#454550" textLength="4.8" lengthAdjust="spacingAndGlyphs">X</text>
<text x="296.1" y="737.8" font-size="7.8" font-weight="bold" fill="#454550" textLength="4.8" lengthAdjust="spacingAndGlyphs">X</text>
<text x="370.6" y="738.2" font-size="7.8" font-weight="bold" fill="#454550" textLength="4.8" lengthAdjust="spacingAndGlyphs">X</text>
<text x="418.0" y="691.2" font-size="7.8" font-weight="bold" fill="#454550" textLength="5.4" lengthAdjust="spacingAndGlyphs">A</text>
</svg>
</body></html>
